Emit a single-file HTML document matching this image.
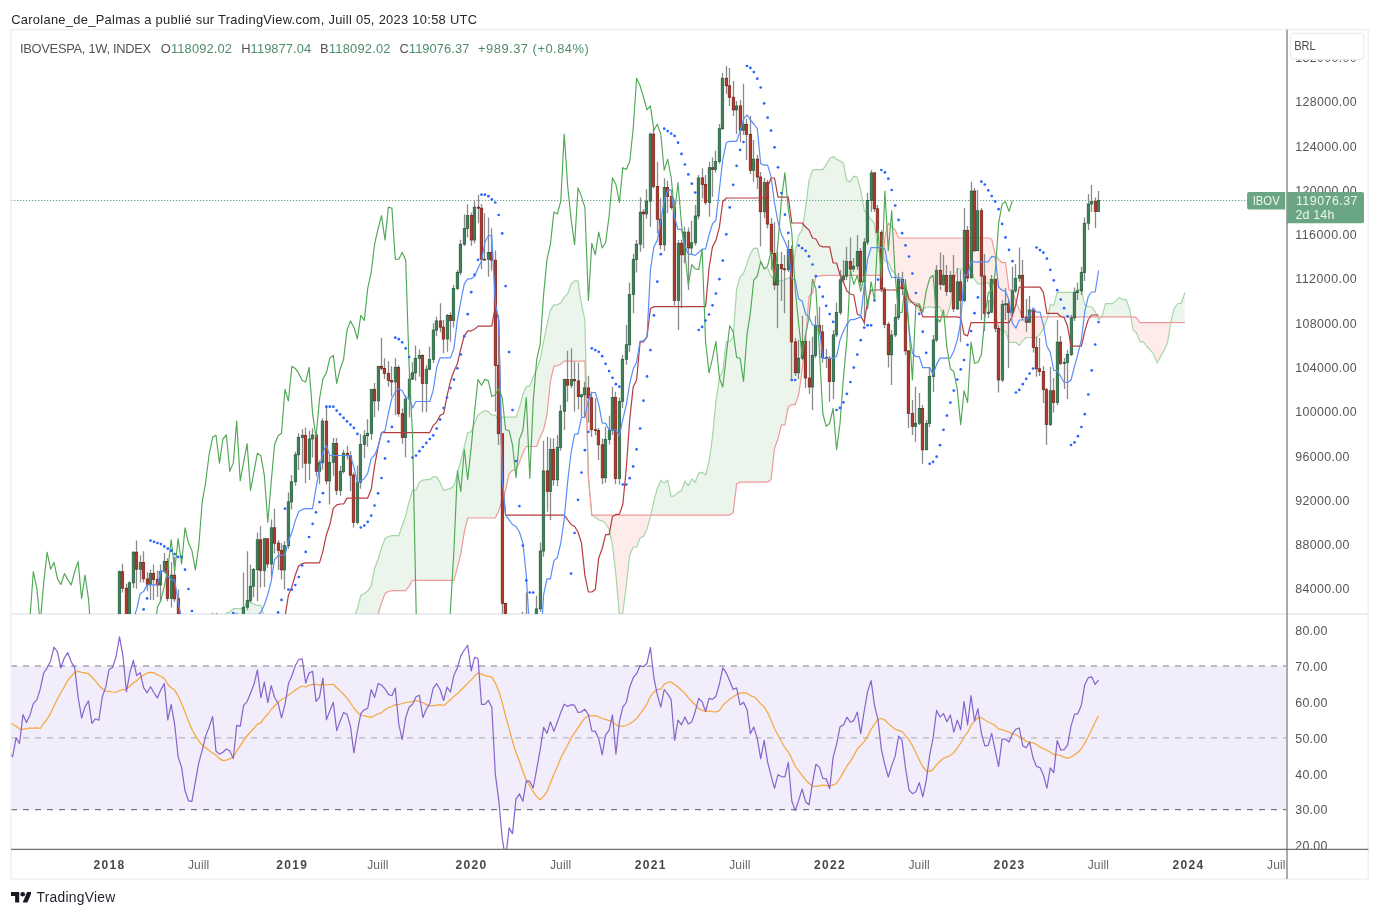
<!DOCTYPE html>
<html lang="fr"><head><meta charset="utf-8"><title>IBOVESPA 1W</title>
<style>
html,body{margin:0;padding:0;background:#fff}
body{width:1379px;height:917px;position:relative;overflow:hidden;font-family:"Liberation Sans",Arial,sans-serif}
svg text{white-space:pre}
</style></head><body>
<svg width="1379" height="917" viewBox="0 0 1379 917" style="position:absolute;left:0;top:0;font-family:'Liberation Sans',Arial,sans-serif">
<defs><clipPath id="cm"><rect x="11.5" y="30.1" width="1274.8" height="583.8"/></clipPath>
<clipPath id="cr"><rect x="11.5" y="614.4" width="1274.8" height="234.5"/></clipPath>
<clipPath id="ca"><rect x="1287.5" y="30.1" width="80.3" height="818.8"/></clipPath>
<clipPath id="ct"><rect x="11.5" y="849.4" width="1274.8" height="29.6"/></clipPath></defs>
<rect x="11" y="29.6" width="1357.3" height="849.4" fill="#fff" stroke="#eff0f5" stroke-width="1.5"/>
<line x1="11" y1="613.9" x2="1368.3" y2="613.9" stroke="#ecedf2" stroke-width="2"/>
<g clip-path="url(#cm)">
<polygon points="5.7,856.5 9.2,857.4 12.6,858.2 16.1,862.5 19.5,850.5 23,844.2 26.4,833.3 29.9,833.3 33.3,833.3 36.8,823.8 40.2,823.8 43.7,817.1 47.1,813.4 50.6,807.7 54,807.2 57.5,806 60.9,806 64.3,809.1 67.8,809.5 71.2,811.9 74.7,811.9 78.1,806.8 81.6,806.8 85,806.8 88.5,806.8 91.9,806.8 95.4,808.5 98.8,810.2 102.3,803.5 105.7,801.1 109.2,801.1 112.6,809.2 116.1,809.2 119.5,805.3 123,803.9 126.4,799 129.9,786.6 133.3,779.8 136.7,773.4 140.2,751.3 143.6,751.2 147.1,748.5 150.5,744 154,738 157.4,732.8 160.9,726.4 164.3,723.5 167.8,723.8 171.2,723.8 174.7,723.8 178.1,723.8 181.6,723.8 185,723.8 188.5,725.8 191.9,722.4 195.4,709 198.8,700 202.2,690.1 205.7,664 209.1,657 212.6,655.7 216,651.1 219.5,631 222.9,621 226.4,613 229.8,612.1 233.3,608.7 236.7,608.7 240.2,608.7 243.6,608.7 247.1,601.7 250.5,601.7 254,604.4 257.4,605.4 260.9,605.4 264.3,616.2 267.8,624.5 271.2,638.8 274.6,646.4 278.1,650.4 281.5,651.3 285,651.3 288.4,651.3 291.9,659.5 294.9,668.1 291.9,672.8 288.4,672.9 285,686.3 281.5,686.3 278.1,692.3 274.6,692.4 271.2,692.4 267.8,692.4 264.3,692.4 260.9,692.4 257.4,692.4 254,692.4 250.5,692.4 247.1,692.4 243.6,692.4 240.2,692.4 236.7,692.4 233.3,692.4 229.8,692.4 226.4,692.4 222.9,692.4 219.5,697.7 216,703.9 212.6,703.9 209.1,703.9 205.7,707.4 202.2,730.8 198.8,740.2 195.4,741.9 191.9,758.7 188.5,772 185,772 181.6,772 178.1,772 174.7,772 171.2,772 167.8,772 164.3,772 160.9,772 157.4,772 154,773.2 150.5,778 147.1,779.3 143.6,781.5 140.2,781.5 136.7,797 133.3,803.3 129.9,807.1 126.4,819.5 123,821.6 119.5,821.6 116.1,821.6 112.6,825.9 109.2,831.6 105.7,845.2 102.3,851.9 98.8,851.9 95.4,851.9 91.9,851.9 88.5,851.9 85,851.9 81.6,851.9 78.1,853 74.7,855.2 71.2,855.2 67.8,855.2 64.3,855.2 60.9,855.2 57.5,855.2 54,855.2 50.6,855.2 47.1,855.2 43.7,855.2 40.2,855.2 36.8,855.2 33.3,864.7 29.9,864.7 26.4,864.7 23,873.5 19.5,874.5 16.1,874.5 12.6,874.5 9.2,874.5 5.7,874.5" fill="rgba(67,160,71,0.10)"/>
<polygon points="294.9,668.1 295.3,669.2 298.8,665.4 302.2,665.4 305.7,665.4 309.1,663.3 312.6,660.7 316,653.8 319.5,654.6 322.9,654.6 326.4,654.6 328.8,647.3 326.4,647.3 322.9,647.3 319.5,647.3 316,647.3 312.6,647.3 309.1,647.3 305.7,650.5 302.2,658.6 298.8,660.8 295.3,667.4" fill="rgba(244,67,54,0.10)"/>
<polygon points="328.8,647.3 329.8,644.4 333.3,638.7 336.7,638.7 340.1,638.7 343.6,629.3 347,626.2 350.5,622.6 353.9,617.3 357.4,608.9 360.8,595.4 364.3,593.6 367.7,591.1 371.2,585.9 374.6,568.2 378.1,559.5 381.5,547.8 385,538.6 388.4,536.5 391.9,535.7 395.3,535.7 398.8,535.7 402.2,525.5 405.7,515.7 409.1,501.6 412.5,490.1 416,490.1 419.4,482 422.9,480.2 426.3,479.7 429.8,479.7 433.2,476.8 436.7,476.8 440.1,482.6 443.6,490.4 447,489.4 450.5,488.5 453.9,485.8 457.4,473.9 460.8,460.5 464.3,446.8 467.7,432.6 471.2,431.8 474.6,422.9 478,415.3 481.5,412.4 484.9,410.7 488.4,411.7 491.8,415.1 495.3,415.1 498.7,420.3 502.2,417.1 505.6,417.1 509.1,417.1 512.5,417.1 516,417.1 519.4,407.9 522.9,394.6 526.3,386.6 529.8,385.8 533.2,377 536.7,369.3 540.1,360 543.6,341.9 547,325 550.4,309.8 553.9,304.8 557.3,304.8 560.8,302.7 564.2,297.1 567.7,293.6 571.1,284.2 574.6,280.9 578,280.9 581.5,304.6 584.9,319.8 588.4,477.5 591.8,515.1 591.8,515.1 591.8,515.1 588.4,477.5 584.9,361.1 581.5,361.1 578,361.1 574.6,361.1 571.1,361.1 567.7,361.1 564.2,361.1 560.8,364.1 557.3,365.8 553.9,365.8 550.4,381.5 547,414.7 543.6,429.8 540.1,437.3 536.7,446.5 533.2,446.5 529.8,446.5 526.3,446.5 522.9,453.1 519.4,462.3 516,469.5 512.5,470.4 509.1,473.9 505.6,490.3 502.2,500.3 498.7,510.8 495.3,518 491.8,518 488.4,518 484.9,518 481.5,518 478,518 474.6,518 471.2,518 467.7,518 464.3,532.2 460.8,553.8 457.4,567.5 453.9,580.3 450.5,580.3 447,580.3 443.6,580.3 440.1,580.3 436.7,580.3 433.2,580.3 429.8,580.3 426.3,580.3 422.9,580.3 419.4,580.3 416,580.3 412.5,580.3 409.1,586.1 405.7,590.7 402.2,590.7 398.8,590.7 395.3,590.7 391.9,590.7 388.4,591.5 385,593.6 381.5,602.8 378.1,614.5 374.6,623.2 371.2,631.3 367.7,631.3 364.3,631.3 360.8,631.3 357.4,636.6 353.9,640.1 350.5,640.1 347,640.1 343.6,643.2 340.1,647.3 336.7,647.3 333.3,647.3 329.8,647.3" fill="rgba(67,160,71,0.10)"/>
<polygon points="591.8,515.1 595.3,517.5 598.7,519.8 602.2,520.8 605.6,523.5 609.1,529.1 612.5,545.2 615.9,574.9 619.4,614.6 622.8,613.3 626.3,585.2 629.7,555 633.2,547 636.6,547 640.1,537.9 643.5,536.4 647,528.9 650.4,517.1 650.8,515.1 650.4,515.1 647,515.1 643.5,515.1 640.1,515.1 636.6,515.1 633.2,515.1 629.7,515.1 626.3,515.1 622.8,515.1 619.4,515.1 615.9,515.1 612.5,515.1 609.1,515.1 605.6,515.1 602.2,515.1 598.7,515.1 595.3,515.1" fill="rgba(244,67,54,0.10)"/>
<polygon points="650.8,515.1 653.9,500.6 657.3,488.5 660.8,480.4 664.2,483.1 667.7,480.2 671.1,496.3 674.6,495.8 678,492.2 681.5,490.9 684.9,481.2 688.3,485.7 691.8,479 695.2,482.3 698.7,473.2 702.1,472.2 705.6,475 709,461.9 712.5,436.6 715.9,401.6 719.4,378 722.8,371.1 726.3,341.5 729.7,341.5 733.2,336.9 736.6,289.4 740.1,276.7 743.5,273.5 747,263.8 750.4,253.6 753.8,248.4 757.3,248.2 760.7,261.9 764.2,268 767.6,268 771.1,276.2 774.5,280.4 778,280.4 781.4,281 784.9,279.6 788.3,277.9 791.8,277.9 795.2,251.7 798.7,235.2 802.1,230.4 805.6,208.1 809,180.4 812.5,170.4 815.9,169.7 819.4,169.7 822.8,169.7 826.2,164.7 829.7,158.6 833.1,156.4 836.6,159 840,161 843.5,163.3 846.9,180.9 850.4,181.6 853.8,176.1 857.3,177.4 860.7,190.5 864.2,209.6 867.6,215.7 871.1,219.4 874.5,223.7 878,251 881.4,251.5 883.1,256.2 881.4,275.3 878,275.3 874.5,275.3 871.1,275.3 867.6,275.3 864.2,275.3 860.7,275.3 857.3,275.3 853.8,275.3 850.4,275.3 846.9,275.3 843.5,275.3 840,275.3 836.6,275.3 833.1,275.3 829.7,275.3 826.2,275.3 822.8,275.3 819.4,276.2 815.9,276.2 812.5,293 809,296.5 805.6,340.4 802.1,370.3 798.7,394.3 795.2,404.6 791.8,404.6 788.3,406.7 784.9,424.9 781.4,424.9 778,438.7 774.5,448.3 771.1,479.5 767.6,482.1 764.2,482.1 760.7,482.1 757.3,482.1 753.8,482.1 750.4,482.1 747,482.1 743.5,482.1 740.1,482.1 736.6,484 733.2,512.4 729.7,515.1 726.3,515.1 722.8,515.1 719.4,515.1 715.9,515.1 712.5,515.1 709,515.1 705.6,515.1 702.1,515.1 698.7,515.1 695.2,515.1 691.8,515.1 688.3,515.1 684.9,515.1 681.5,515.1 678,515.1 674.6,515.1 671.1,515.1 667.7,515.1 664.2,515.1 660.8,515.1 657.3,515.1 653.9,515.1" fill="rgba(67,160,71,0.10)"/>
<polygon points="883.1,256.2 884.9,261 888.3,262 891.8,270.5 895.2,273.5 898.6,281.5 902.1,282 905.5,286.6 909,302.6 912.4,302.6 915.9,302.6 919.3,310.7 922.8,309.6 926.2,307.5 929.7,306.7 933.1,307.6 936.6,306.8 940,307.3 943.5,316.2 946.9,316.5 950.4,304.2 953.8,280.3 957.3,268.8 960.7,268.8 964.1,268.8 967.6,268.8 971,269.5 974.5,279.4 977.9,283.8 981.4,283.8 984.8,283.8 988.3,282.2 991.7,290.4 995.2,314 998.6,327.9 1002.1,331.3 1005.5,331.3 1009,342.3 1012.4,342.3 1015.9,342.3 1019.3,345.6 1022.8,340.6 1026.2,337.5 1029.6,337.5 1033.1,337.5 1036.5,337.5 1040,334.1 1043.4,328.3 1046.9,320.1 1047.6,316.9 1046.9,316.9 1043.4,316.9 1040,316.9 1036.5,316.9 1033.1,316.9 1029.6,316.9 1026.2,316.9 1022.8,316.9 1019.3,309.4 1015.9,301.9 1012.4,289.9 1009,289.9 1005.5,262.7 1002.1,262.7 998.6,259.4 995.2,254.5 991.7,239 988.3,238 984.8,238 981.4,238 977.9,238 974.5,238 971,238 967.6,238 964.1,238 960.7,238 957.3,238 953.8,238 950.4,238 946.9,238 943.5,238 940,238 936.6,238 933.1,238 929.7,238 926.2,238 922.8,238 919.3,238 915.9,238 912.4,238 909,238 905.5,238 902.1,238 898.6,238 895.2,230 891.8,227 888.3,223 884.9,236.9" fill="rgba(244,67,54,0.10)"/>
<polygon points="1047.6,316.9 1050.3,304.7 1053.8,305.4 1057.2,292.3 1060.7,292.3 1064.1,292.3 1067.6,292.3 1071,292.3 1074.5,292.3 1077.9,289.5 1081.4,289.8 1084.8,304.9 1088.3,306.5 1091.7,307 1095.2,311.5 1097.5,316.9 1095.2,316.9 1091.7,316.9 1088.3,316.9 1084.8,316.9 1081.4,316.9 1077.9,316.9 1074.5,316.9 1071,316.9 1067.6,316.9 1064.1,316.9 1060.7,316.9 1057.2,316.9 1053.8,316.9 1050.3,316.9" fill="rgba(67,160,71,0.10)"/>
<polygon points="1097.5,316.9 1098.6,319.5 1101.4,316.9 1098.6,316.9" fill="rgba(244,67,54,0.10)"/>
<polygon points="1101.4,316.9 1102,316.3 1105.5,303.6 1108.9,303.6 1112.4,303.6 1115.8,300.9 1119.3,297.4 1122.7,299.6 1126.2,299.6 1129.6,308.8 1131,316.9 1129.6,316.9 1126.2,316.9 1122.7,316.9 1119.3,316.9 1115.8,316.9 1112.4,316.9 1108.9,316.9 1105.5,316.9 1102,316.9" fill="rgba(67,160,71,0.10)"/>
<polygon points="1131,316.9 1133.1,329.8 1136.5,332.9 1140,341.9 1143.4,341.9 1146.9,346.5 1150.3,350 1153.8,354.5 1157.2,363.1 1160.7,356.2 1164.1,350.2 1167.5,342.9 1170.8,322.7 1167.5,322.7 1164.1,322.7 1160.7,322.7 1157.2,322.7 1153.8,322.7 1150.3,322.7 1146.9,322.7 1143.4,322.7 1140,322.7 1136.5,317.9 1133.1,316.9" fill="rgba(244,67,54,0.10)"/>
<polygon points="1170.8,322.7 1171,321.2 1174.4,308 1177.9,303.5 1181.3,303.5 1184.8,292.8 1184.8,322.7 1181.3,322.7 1177.9,322.7 1174.4,322.7 1171,322.7" fill="rgba(67,160,71,0.10)"/>
<polyline points="5.7,856.5 9.2,857.4 12.6,858.2 16.1,862.5 19.5,850.5 23,844.2 26.4,833.3 29.9,833.3 33.3,833.3 36.8,823.8 40.2,823.8 43.7,817.1 47.1,813.4 50.6,807.7 54,807.2 57.5,806 60.9,806 64.3,809.1 67.8,809.5 71.2,811.9 74.7,811.9 78.1,806.8 81.6,806.8 85,806.8 88.5,806.8 91.9,806.8 95.4,808.5 98.8,810.2 102.3,803.5 105.7,801.1 109.2,801.1 112.6,809.2 116.1,809.2 119.5,805.3 123,803.9 126.4,799 129.9,786.6 133.3,779.8 136.7,773.4 140.2,751.3 143.6,751.2 147.1,748.5 150.5,744 154,738 157.4,732.8 160.9,726.4 164.3,723.5 167.8,723.8 171.2,723.8 174.7,723.8 178.1,723.8 181.6,723.8 185,723.8 188.5,725.8 191.9,722.4 195.4,709 198.8,700 202.2,690.1 205.7,664 209.1,657 212.6,655.7 216,651.1 219.5,631 222.9,621 226.4,613 229.8,612.1 233.3,608.7 236.7,608.7 240.2,608.7 243.6,608.7 247.1,601.7 250.5,601.7 254,604.4 257.4,605.4 260.9,605.4 264.3,616.2 267.8,624.5 271.2,638.8 274.6,646.4 278.1,650.4 281.5,651.3 285,651.3 288.4,651.3 291.9,659.5 295.3,669.2 298.8,665.4 302.2,665.4 305.7,665.4 309.1,663.3 312.6,660.7 316,653.8 319.5,654.6 322.9,654.6 326.4,654.6 329.8,644.4 333.3,638.7 336.7,638.7 340.1,638.7 343.6,629.3 347,626.2 350.5,622.6 353.9,617.3 357.4,608.9 360.8,595.4 364.3,593.6 367.7,591.1 371.2,585.9 374.6,568.2 378.1,559.5 381.5,547.8 385,538.6 388.4,536.5 391.9,535.7 395.3,535.7 398.8,535.7 402.2,525.5 405.7,515.7 409.1,501.6 412.5,490.1 416,490.1 419.4,482 422.9,480.2 426.3,479.7 429.8,479.7 433.2,476.8 436.7,476.8 440.1,482.6 443.6,490.4 447,489.4 450.5,488.5 453.9,485.8 457.4,473.9 460.8,460.5 464.3,446.8 467.7,432.6 471.2,431.8 474.6,422.9 478,415.3 481.5,412.4 484.9,410.7 488.4,411.7 491.8,415.1 495.3,415.1 498.7,420.3 502.2,417.1 505.6,417.1 509.1,417.1 512.5,417.1 516,417.1 519.4,407.9 522.9,394.6 526.3,386.6 529.8,385.8 533.2,377 536.7,369.3 540.1,360 543.6,341.9 547,325 550.4,309.8 553.9,304.8 557.3,304.8 560.8,302.7 564.2,297.1 567.7,293.6 571.1,284.2 574.6,280.9 578,280.9 581.5,304.6 584.9,319.8 588.4,477.5 591.8,515.1 595.3,517.5 598.7,519.8 602.2,520.8 605.6,523.5 609.1,529.1 612.5,545.2 615.9,574.9 619.4,614.6 622.8,613.3 626.3,585.2 629.7,555 633.2,547 636.6,547 640.1,537.9 643.5,536.4 647,528.9 650.4,517.1 653.9,500.6 657.3,488.5 660.8,480.4 664.2,483.1 667.7,480.2 671.1,496.3 674.6,495.8 678,492.2 681.5,490.9 684.9,481.2 688.3,485.7 691.8,479 695.2,482.3 698.7,473.2 702.1,472.2 705.6,475 709,461.9 712.5,436.6 715.9,401.6 719.4,378 722.8,371.1 726.3,341.5 729.7,341.5 733.2,336.9 736.6,289.4 740.1,276.7 743.5,273.5 747,263.8 750.4,253.6 753.8,248.4 757.3,248.2 760.7,261.9 764.2,268 767.6,268 771.1,276.2 774.5,280.4 778,280.4 781.4,281 784.9,279.6 788.3,277.9 791.8,277.9 795.2,251.7 798.7,235.2 802.1,230.4 805.6,208.1 809,180.4 812.5,170.4 815.9,169.7 819.4,169.7 822.8,169.7 826.2,164.7 829.7,158.6 833.1,156.4 836.6,159 840,161 843.5,163.3 846.9,180.9 850.4,181.6 853.8,176.1 857.3,177.4 860.7,190.5 864.2,209.6 867.6,215.7 871.1,219.4 874.5,223.7 878,251 881.4,251.5 884.9,261 888.3,262 891.8,270.5 895.2,273.5 898.6,281.5 902.1,282 905.5,286.6 909,302.6 912.4,302.6 915.9,302.6 919.3,310.7 922.8,309.6 926.2,307.5 929.7,306.7 933.1,307.6 936.6,306.8 940,307.3 943.5,316.2 946.9,316.5 950.4,304.2 953.8,280.3 957.3,268.8 960.7,268.8 964.1,268.8 967.6,268.8 971,269.5 974.5,279.4 977.9,283.8 981.4,283.8 984.8,283.8 988.3,282.2 991.7,290.4 995.2,314 998.6,327.9 1002.1,331.3 1005.5,331.3 1009,342.3 1012.4,342.3 1015.9,342.3 1019.3,345.6 1022.8,340.6 1026.2,337.5 1029.6,337.5 1033.1,337.5 1036.5,337.5 1040,334.1 1043.4,328.3 1046.9,320.1 1050.3,304.7 1053.8,305.4 1057.2,292.3 1060.7,292.3 1064.1,292.3 1067.6,292.3 1071,292.3 1074.5,292.3 1077.9,289.5 1081.4,289.8 1084.8,304.9 1088.3,306.5 1091.7,307 1095.2,311.5 1098.6,319.5 1102,316.3 1105.5,303.6 1108.9,303.6 1112.4,303.6 1115.8,300.9 1119.3,297.4 1122.7,299.6 1126.2,299.6 1129.6,308.8 1133.1,329.8 1136.5,332.9 1140,341.9 1143.4,341.9 1146.9,346.5 1150.3,350 1153.8,354.5 1157.2,363.1 1160.7,356.2 1164.1,350.2 1167.5,342.9 1171,321.2 1174.4,308 1177.9,303.5 1181.3,303.5 1184.8,292.8" fill="none" stroke="#a5d6a7" stroke-width="1.2" stroke-linejoin="round"/>
<polyline points="5.7,874.5 9.2,874.5 12.6,874.5 16.1,874.5 19.5,874.5 23,873.5 26.4,864.7 29.9,864.7 33.3,864.7 36.8,855.2 40.2,855.2 43.7,855.2 47.1,855.2 50.6,855.2 54,855.2 57.5,855.2 60.9,855.2 64.3,855.2 67.8,855.2 71.2,855.2 74.7,855.2 78.1,853 81.6,851.9 85,851.9 88.5,851.9 91.9,851.9 95.4,851.9 98.8,851.9 102.3,851.9 105.7,845.2 109.2,831.6 112.6,825.9 116.1,821.6 119.5,821.6 123,821.6 126.4,819.5 129.9,807.1 133.3,803.3 136.7,797 140.2,781.5 143.6,781.5 147.1,779.3 150.5,778 154,773.2 157.4,772 160.9,772 164.3,772 167.8,772 171.2,772 174.7,772 178.1,772 181.6,772 185,772 188.5,772 191.9,758.7 195.4,741.9 198.8,740.2 202.2,730.8 205.7,707.4 209.1,703.9 212.6,703.9 216,703.9 219.5,697.7 222.9,692.4 226.4,692.4 229.8,692.4 233.3,692.4 236.7,692.4 240.2,692.4 243.6,692.4 247.1,692.4 250.5,692.4 254,692.4 257.4,692.4 260.9,692.4 264.3,692.4 267.8,692.4 271.2,692.4 274.6,692.4 278.1,692.3 281.5,686.3 285,686.3 288.4,672.9 291.9,672.8 295.3,667.4 298.8,660.8 302.2,658.6 305.7,650.5 309.1,647.3 312.6,647.3 316,647.3 319.5,647.3 322.9,647.3 326.4,647.3 329.8,647.3 333.3,647.3 336.7,647.3 340.1,647.3 343.6,643.2 347,640.1 350.5,640.1 353.9,640.1 357.4,636.6 360.8,631.3 364.3,631.3 367.7,631.3 371.2,631.3 374.6,623.2 378.1,614.5 381.5,602.8 385,593.6 388.4,591.5 391.9,590.7 395.3,590.7 398.8,590.7 402.2,590.7 405.7,590.7 409.1,586.1 412.5,580.3 416,580.3 419.4,580.3 422.9,580.3 426.3,580.3 429.8,580.3 433.2,580.3 436.7,580.3 440.1,580.3 443.6,580.3 447,580.3 450.5,580.3 453.9,580.3 457.4,567.5 460.8,553.8 464.3,532.2 467.7,518 471.2,518 474.6,518 478,518 481.5,518 484.9,518 488.4,518 491.8,518 495.3,518 498.7,510.8 502.2,500.3 505.6,490.3 509.1,473.9 512.5,470.4 516,469.5 519.4,462.3 522.9,453.1 526.3,446.5 529.8,446.5 533.2,446.5 536.7,446.5 540.1,437.3 543.6,429.8 547,414.7 550.4,381.5 553.9,365.8 557.3,365.8 560.8,364.1 564.2,361.1 567.7,361.1 571.1,361.1 574.6,361.1 578,361.1 581.5,361.1 584.9,361.1 588.4,477.5 591.8,515.1 595.3,515.1 598.7,515.1 602.2,515.1 605.6,515.1 609.1,515.1 612.5,515.1 615.9,515.1 619.4,515.1 622.8,515.1 626.3,515.1 629.7,515.1 633.2,515.1 636.6,515.1 640.1,515.1 643.5,515.1 647,515.1 650.4,515.1 653.9,515.1 657.3,515.1 660.8,515.1 664.2,515.1 667.7,515.1 671.1,515.1 674.6,515.1 678,515.1 681.5,515.1 684.9,515.1 688.3,515.1 691.8,515.1 695.2,515.1 698.7,515.1 702.1,515.1 705.6,515.1 709,515.1 712.5,515.1 715.9,515.1 719.4,515.1 722.8,515.1 726.3,515.1 729.7,515.1 733.2,512.4 736.6,484 740.1,482.1 743.5,482.1 747,482.1 750.4,482.1 753.8,482.1 757.3,482.1 760.7,482.1 764.2,482.1 767.6,482.1 771.1,479.5 774.5,448.3 778,438.7 781.4,424.9 784.9,424.9 788.3,406.7 791.8,404.6 795.2,404.6 798.7,394.3 802.1,370.3 805.6,340.4 809,296.5 812.5,293 815.9,276.2 819.4,276.2 822.8,275.3 826.2,275.3 829.7,275.3 833.1,275.3 836.6,275.3 840,275.3 843.5,275.3 846.9,275.3 850.4,275.3 853.8,275.3 857.3,275.3 860.7,275.3 864.2,275.3 867.6,275.3 871.1,275.3 874.5,275.3 878,275.3 881.4,275.3 884.9,236.9 888.3,223 891.8,227 895.2,230 898.6,238 902.1,238 905.5,238 909,238 912.4,238 915.9,238 919.3,238 922.8,238 926.2,238 929.7,238 933.1,238 936.6,238 940,238 943.5,238 946.9,238 950.4,238 953.8,238 957.3,238 960.7,238 964.1,238 967.6,238 971,238 974.5,238 977.9,238 981.4,238 984.8,238 988.3,238 991.7,239 995.2,254.5 998.6,259.4 1002.1,262.7 1005.5,262.7 1009,289.9 1012.4,289.9 1015.9,301.9 1019.3,309.4 1022.8,316.9 1026.2,316.9 1029.6,316.9 1033.1,316.9 1036.5,316.9 1040,316.9 1043.4,316.9 1046.9,316.9 1050.3,316.9 1053.8,316.9 1057.2,316.9 1060.7,316.9 1064.1,316.9 1067.6,316.9 1071,316.9 1074.5,316.9 1077.9,316.9 1081.4,316.9 1084.8,316.9 1088.3,316.9 1091.7,316.9 1095.2,316.9 1098.6,316.9 1102,316.9 1105.5,316.9 1108.9,316.9 1112.4,316.9 1115.8,316.9 1119.3,316.9 1122.7,316.9 1126.2,316.9 1129.6,316.9 1133.1,316.9 1136.5,317.9 1140,322.7 1143.4,322.7 1146.9,322.7 1150.3,322.7 1153.8,322.7 1157.2,322.7 1160.7,322.7 1164.1,322.7 1167.5,322.7 1171,322.7 1174.4,322.7 1177.9,322.7 1181.3,322.7 1184.8,322.7" fill="none" stroke="#ef9a9a" stroke-width="1.2" stroke-linejoin="round"/>
<line x1="11" y1="200.5" x2="1287" y2="200.5" stroke="#6aa584" stroke-width="1.1" stroke-dasharray="1.3 1.7"/>
<path d="M5.5 823.1V830.5M9.5 829V837.3M12.5 835.3V844.1M16.5 819.3V844M19.5 821.9V830.3M22.5 791.4V832M26.5 790.4V805.3M29.5 791.2V805M33.5 774.8V794.3M36.5 769.3V781.1M40.5 753.9V776.5M43.5 729.1V760.5M47.5 721.5V734.6M50.5 708.8V723.1M54.5 677.9V711.4M57.5 678.3V684.3M60.5 683.5V697.2M64.5 675.4V698.4M67.5 665.7V680.7M71.5 663.4V673.8M74.5 671.6V679.1M78.5 675.1V701.7M81.5 696.1V724.4M85.5 703.1V722.2M88.5 696.9V706.3M91.5 695.4V720.5M95.5 709.8V719.4M98.5 713.2V718.6M102.5 682.9V716.5M105.5 669.9V686.9M109.5 639.7V678.2M112.5 636.2V646.4M116.5 617.4V642.6M119.5 570.6V625M122.5 563.8V592.5M126.5 583.8V625.4M129.5 581.2V629.2M133.5 551.2V588M136.5 540.6V588.7M140.5 555.6V582.5M143.5 551.2V582.5M147.5 571.9V591.2M150.5 569.4V600M153.5 564.4V600M157.5 570.6V596.9M160.5 564.4V601.3M164.5 553.1V573M167.5 558.1V601.3M171.5 561.9V607.5M174.5 556.9V602M178.5 589.4V650.5M181.5 641.8V685M185.5 655.1V730.8M188.5 704.9V745.8M191.5 717.1V753.9M195.5 710.4V745.7M198.5 681.6V724.8M202.5 667.2V696M205.5 646.2V678.3M209.5 628.5V660.6M212.5 613V648.4M216.5 613V675M219.5 646.2V685M222.5 662.8V690.5M226.5 647.3V681.6M229.5 666.1V697.1M233.5 667.2V698.2M236.5 636.3V683.9M240.5 630.7V662.8M243.5 572.5V642.9M247.5 551.2V610.2M250.5 564.4V603.1M253.5 568.1V597.5M257.5 532.5V601.3M260.5 526.2V587.5M264.5 538.3V586.9M267.5 538.7V568.1M271.5 519.4V577.5M274.5 508.7V553.8M278.5 540V570M281.5 543.1V579.4M284.5 541.2V589.6M288.5 492.5V548.8M291.5 475V509.4M295.5 451.7V485.8M298.5 433.3V470M302.5 429.2V468.3M305.5 427.5V483.3M309.5 430.8V480M312.5 428.3V457.5M316.5 433.3V476.4M319.5 460.2V484.2M322.5 418.3V469.7M326.5 406.7V484.2M329.5 455V504.4M333.5 437.9V475.8M336.5 437.9V495M340.5 465.8V495.8M343.5 449.7V473.6M347.5 445.7V459.4M350.5 450.9V490.9M353.5 472.5V527.5M357.5 465.4V524.2M360.5 433.9V488.8M364.5 430V458.3M367.5 419.2V446.7M371.5 389.3V439.7M374.5 382.9V417.2M378.5 366.2V410.4M381.5 337.7V370.3M384.5 358.3V378.9M388.5 361.3V386.8M391.5 366.2V396.6M395.5 358.3V415.3M398.5 365.2V416.7M402.5 408.5V443.8M405.5 395V457.5M409.5 373V417.5M412.5 362.2V380.1M415.5 345.5V380.8M419.5 349.5V376.7M422.5 354.2V412.3M426.5 365.3V412.3M429.5 346.5V369.9M433.5 323.3V362.9M436.5 316.7V336.1M440.5 303.3V332.2M443.5 320V353.3M447.5 314V351.7M450.5 312.5V341.7M453.5 285V327.5M457.5 270V289.9M460.5 239.8V275.2M464.5 214.2V245.9M467.5 204.2V237.5M471.5 212.6V245.8M474.5 200.8V243.2M478.5 194.7V223.3M481.5 204V269.2M484.5 213.3V260.8M488.5 217.5V276.7M491.5 228.3V270.8M495.5 250.6V411.7M498.5 315V445M502.5 433.7V760.3M505.5 603.1V835.6M509.5 658.4V830.4M512.5 682.7V768M515.5 634V748.7M519.5 623V675M522.5 611.7V721M526.5 592.5V684.6M529.5 618.6V656.2M533.5 629.6V680.5M536.5 595.8V660M540.5 542.5V611.9M543.5 440.8V556.7M547.5 436.7V511.7M550.5 438.3V520M553.5 438.3V485.8M557.5 435V486.3M560.5 405V450.8M564.5 378.4V430M567.5 350.8V401.7M571.5 348.3V388.3M574.5 361.7V411.7M578.5 362.5V409.2M581.5 394.4V416.7M584.5 381.7V418.3M588.5 375.8V422.5M591.5 391.7V436.7M595.5 398.3V435.3M598.5 427.9V460M602.5 438.4V484.2M605.5 426.7V482.8M609.5 415.8V444.4M612.5 386.7V435.1M615.5 391.7V484.2M619.5 397.5V484.5M622.5 354.7V407.9M626.5 325V364.8M629.5 282.5V352.2M633.5 253.7V313.3M636.5 240V272.5M640.5 197.5V251.7M643.5 209.2V248.3M646.5 189.2V218.6M650.5 132.5V226.7M653.5 128.7V188.5M657.5 161.7V233.3M660.5 198.3V249.3M664.5 178.3V251M667.5 180.8V213.3M671.5 195.6V209.8M674.5 199.4V305.5M678.5 240V330M681.5 239.8V308.3M684.5 226.7V263.3M688.5 227.5V290M691.5 220.8V254.2M695.5 205V245.5M698.5 175V219.6M702.5 168.3V198.3M705.5 175V205M709.5 161.8V216.7M712.5 157.5V196.7M715.5 150.8V172.5M719.5 124.1V163.7M722.5 73V130M726.5 66V94M729.5 68V106M733.5 81V116M736.5 101V134M740.5 100V142M743.5 83.7V135M746.5 119V160M750.5 116V174M753.5 140V182M757.5 155V189M760.5 172V246.5M764.5 178V218M767.5 180V228.5M771.5 218V270M774.5 222V290M777.5 251.7V328.3M781.5 251.7V301M784.5 255V313.3M788.5 240V272M791.5 245.5V380M795.5 338V376M798.5 340V379M802.5 315.8V360M805.5 335V388M809.5 340.8V394M812.5 336.7V410M815.5 315.8V358M819.5 306.7V335M822.5 325V362.5M826.5 349V368M829.5 356V401.7M833.5 330V399M836.5 302.5V337M840.5 270V315M843.5 260V283M846.5 246.7V280M850.5 237.5V275M853.5 258V272M857.5 235V270M860.5 248V286M864.5 238V325.3M867.5 193V245M871.5 170V212M874.5 172V212M877.5 205V236M881.5 230V292M884.5 287V328M888.5 322V367.5M891.5 330V385M895.5 304V337M898.5 273V320M902.5 271.7V295M905.5 285V355M908.5 350V428M912.5 400V435M915.5 386.7V441.7M919.5 393V425M922.5 405V463.8M926.5 420V450M929.5 367V427M933.5 335V392M936.5 265V342M940.5 252.5V290M943.5 255V286M946.5 265V296M950.5 271V293M953.5 255V312M957.5 268V310M960.5 270V342M964.5 208V302M967.5 226V282M971.5 181.7V278M974.5 188V252M977.5 190V250.7M981.5 208V320M984.5 254V331M988.5 300V318M991.5 275V313M995.5 278V332M998.5 325V392.5M1002.5 300V382M1005.5 288V320M1008.5 300V368M1012.5 266.7V314M1015.5 264V293M1019.5 247.5V282M1022.5 260V320M1026.5 299V331.7M1029.5 296V323M1033.5 308V352.5M1036.5 336.7V376.7M1039.5 338V376M1043.5 366V403M1046.5 388V445M1050.5 366.7V426M1053.5 378V412.5M1057.5 320V405M1060.5 336V365M1064.5 358V389M1067.5 350V399M1071.5 315V356M1074.5 287.5V321M1077.5 282.5V300M1081.5 266.7V295M1084.5 217.5V281M1088.5 194V230M1091.5 185V212M1095.5 197.5V228M1098.5 191V211.4" stroke="#8a8a8a" stroke-width="1.3" fill="none"/>
<g fill="#3f8059" stroke="#215f3b" stroke-width="0.7"><rect x="15.2" y="822.2" width="2.5" height="20.1"/><rect x="21.2" y="794.1" width="2.5" height="34.5"/><rect x="28.2" y="793.5" width="2.5" height="9"/><rect x="32.2" y="777.9" width="2.5" height="15.5"/><rect x="35.2" y="772.8" width="2.5" height="5.1"/><rect x="39.2" y="757.8" width="2.5" height="15"/><rect x="42.2" y="731.7" width="2.5" height="26.1"/><rect x="46.2" y="722.3" width="2.5" height="9.4"/><rect x="49.2" y="709.5" width="2.5" height="12.8"/><rect x="53.2" y="679.9" width="2.5" height="29.6"/><rect x="63.2" y="676.6" width="2.5" height="19.5"/><rect x="66.2" y="666.3" width="2.5" height="10.3"/><rect x="84.2" y="705.6" width="2.5" height="14.1"/><rect x="87.2" y="697.6" width="2.5" height="8"/><rect x="94.2" y="713.4" width="2.5" height="5.2"/><rect x="101.2" y="686.2" width="2.5" height="28.5"/><rect x="104.2" y="672.8" width="2.5" height="13.4"/><rect x="108.2" y="643.2" width="2.5" height="29.5"/><rect x="111.2" y="640.1" width="2.5" height="3.1"/><rect x="115.2" y="619.4" width="2.5" height="20.7"/><rect x="118.2" y="571.7" width="2.5" height="47.7"/><rect x="128.2" y="582.9" width="2.5" height="40.1"/><rect x="132.2" y="552.2" width="2.5" height="30.6"/><rect x="139.2" y="562.4" width="2.5" height="6.8"/><rect x="149.2" y="573.6" width="2.5" height="10.9"/><rect x="159.2" y="571.5" width="2.5" height="13.5"/><rect x="163.2" y="561.6" width="2.5" height="9.9"/><rect x="170.2" y="575.2" width="2.5" height="23.3"/><rect x="194.2" y="713" width="2.5" height="23.5"/><rect x="197.2" y="688.2" width="2.5" height="24.9"/><rect x="201.2" y="670.6" width="2.5" height="17.5"/><rect x="204.2" y="648.8" width="2.5" height="21.9"/><rect x="208.2" y="634.4" width="2.5" height="14.3"/><rect x="211.2" y="617.1" width="2.5" height="17.4"/><rect x="221.2" y="674.3" width="2.5" height="2.6"/><rect x="225.2" y="669.7" width="2.5" height="4.6"/><rect x="235.2" y="639.1" width="2.5" height="44.4"/><rect x="242.2" y="607.3" width="2.5" height="33"/><rect x="246.2" y="600.6" width="2.5" height="6.6"/><rect x="249.2" y="586.2" width="2.5" height="14.4"/><rect x="252.2" y="569.6" width="2.5" height="16.6"/><rect x="256.2" y="539.8" width="2.5" height="29.9"/><rect x="263.2" y="538.7" width="2.5" height="31.8"/><rect x="270.2" y="527.8" width="2.5" height="36.2"/><rect x="283.2" y="545.7" width="2.5" height="24.2"/><rect x="287.2" y="501.9" width="2.5" height="43.8"/><rect x="290.2" y="481.8" width="2.5" height="20.1"/><rect x="294.2" y="454.8" width="2.5" height="27"/><rect x="297.2" y="437.3" width="2.5" height="17.5"/><rect x="301.2" y="435.3" width="2.5" height="2"/><rect x="308.2" y="439" width="2.5" height="24.2"/><rect x="311.2" y="435" width="2.5" height="4"/><rect x="318.2" y="462.9" width="2.5" height="8.4"/><rect x="321.2" y="421.1" width="2.5" height="41.7"/><rect x="328.2" y="462.3" width="2.5" height="18.6"/><rect x="332.2" y="443.6" width="2.5" height="18.7"/><rect x="339.2" y="471.6" width="2.5" height="18.8"/><rect x="342.2" y="453.2" width="2.5" height="18.3"/><rect x="356.2" y="482.1" width="2.5" height="40.2"/><rect x="359.2" y="444.5" width="2.5" height="37.7"/><rect x="363.2" y="435.7" width="2.5" height="8.8"/><rect x="366.2" y="433.3" width="2.5" height="2.4"/><rect x="370.2" y="389.3" width="2.5" height="44"/><rect x="377.2" y="366.3" width="2.5" height="34.6"/><rect x="394.2" y="367.4" width="2.5" height="14.6"/><rect x="404.2" y="399" width="2.5" height="38.4"/><rect x="408.2" y="379.1" width="2.5" height="19.9"/><rect x="411.2" y="372.8" width="2.5" height="6.3"/><rect x="414.2" y="358.3" width="2.5" height="14.6"/><rect x="418.2" y="355.4" width="2.5" height="2.9"/><rect x="425.2" y="369.2" width="2.5" height="14.2"/><rect x="428.2" y="359.3" width="2.5" height="9.9"/><rect x="432.2" y="330.1" width="2.5" height="29.2"/><rect x="435.2" y="320.9" width="2.5" height="9.2"/><rect x="446.2" y="315.4" width="2.5" height="23.6"/><rect x="452.2" y="288.5" width="2.5" height="32"/><rect x="456.2" y="272.5" width="2.5" height="15.9"/><rect x="459.2" y="244.2" width="2.5" height="28.3"/><rect x="463.2" y="228.6" width="2.5" height="15.6"/><rect x="466.2" y="215.6" width="2.5" height="13"/><rect x="473.2" y="207.1" width="2.5" height="32.9"/><rect x="483.2" y="259.2" width="2.5" height="0.9"/><rect x="487.2" y="252.4" width="2.5" height="6.8"/><rect x="508.2" y="705.7" width="2.5" height="70.4"/><rect x="514.2" y="658.6" width="2.5" height="90.1"/><rect x="518.2" y="644.1" width="2.5" height="14.5"/><rect x="525.2" y="627.3" width="2.5" height="57.3"/><rect x="535.2" y="608.9" width="2.5" height="51.1"/><rect x="539.2" y="551" width="2.5" height="57.9"/><rect x="542.2" y="470.9" width="2.5" height="80.1"/><rect x="549.2" y="449.5" width="2.5" height="41.8"/><rect x="556.2" y="447.4" width="2.5" height="32.4"/><rect x="559.2" y="411.2" width="2.5" height="36.2"/><rect x="563.2" y="379.6" width="2.5" height="31.6"/><rect x="570.2" y="379.4" width="2.5" height="5.9"/><rect x="580.2" y="394.8" width="2.5" height="1.9"/><rect x="583.2" y="387.9" width="2.5" height="6.9"/><rect x="604.2" y="439.4" width="2.5" height="38.4"/><rect x="608.2" y="430.3" width="2.5" height="9.1"/><rect x="611.2" y="397.6" width="2.5" height="32.7"/><rect x="618.2" y="401.4" width="2.5" height="77.2"/><rect x="621.2" y="359.3" width="2.5" height="42"/><rect x="625.2" y="344.7" width="2.5" height="14.6"/><rect x="628.2" y="294.6" width="2.5" height="50.2"/><rect x="632.2" y="259.4" width="2.5" height="35.1"/><rect x="635.2" y="244.2" width="2.5" height="15.3"/><rect x="639.2" y="212.1" width="2.5" height="32.1"/><rect x="645.2" y="201.1" width="2.5" height="12.8"/><rect x="649.2" y="134.1" width="2.5" height="67.1"/><rect x="663.2" y="187.6" width="2.5" height="57.2"/><rect x="677.2" y="243.3" width="2.5" height="57.2"/><rect x="683.2" y="232.1" width="2.5" height="22.8"/><rect x="690.2" y="242.8" width="2.5" height="5.2"/><rect x="694.2" y="216" width="2.5" height="26.8"/><rect x="697.2" y="177.9" width="2.5" height="38.1"/><rect x="708.2" y="167.7" width="2.5" height="34.8"/><rect x="714.2" y="161.6" width="2.5" height="7.9"/><rect x="718.2" y="128.7" width="2.5" height="32.9"/><rect x="721.2" y="78.2" width="2.5" height="50.5"/><rect x="735.2" y="105.9" width="2.5" height="4.1"/><rect x="742.2" y="124.3" width="2.5" height="5.9"/><rect x="752.2" y="159.1" width="2.5" height="11.2"/><rect x="763.2" y="182.7" width="2.5" height="29.1"/><rect x="776.2" y="264.6" width="2.5" height="20.4"/><rect x="787.2" y="249.5" width="2.5" height="20.1"/><rect x="797.2" y="358.2" width="2.5" height="14.6"/><rect x="801.2" y="341.5" width="2.5" height="16.7"/><rect x="811.2" y="355.5" width="2.5" height="31.5"/><rect x="814.2" y="325.7" width="2.5" height="29.7"/><rect x="832.2" y="334.9" width="2.5" height="46.6"/><rect x="835.2" y="312.6" width="2.5" height="22.3"/><rect x="839.2" y="279.8" width="2.5" height="32.8"/><rect x="842.2" y="276.1" width="2.5" height="3.7"/><rect x="845.2" y="261.4" width="2.5" height="14.7"/><rect x="852.2" y="266.1" width="2.5" height="2.9"/><rect x="856.2" y="251.4" width="2.5" height="14.7"/><rect x="863.2" y="242.1" width="2.5" height="39.8"/><rect x="866.2" y="200.4" width="2.5" height="41.7"/><rect x="870.2" y="172.9" width="2.5" height="27.5"/><rect x="890.2" y="335" width="2.5" height="19.8"/><rect x="894.2" y="317.6" width="2.5" height="17.3"/><rect x="897.2" y="279.4" width="2.5" height="38.2"/><rect x="914.2" y="423.2" width="2.5" height="3.1"/><rect x="918.2" y="408.4" width="2.5" height="14.8"/><rect x="925.2" y="423.5" width="2.5" height="26.3"/><rect x="928.2" y="376.6" width="2.5" height="46.9"/><rect x="932.2" y="340" width="2.5" height="36.6"/><rect x="935.2" y="270.3" width="2.5" height="69.6"/><rect x="942.2" y="275.5" width="2.5" height="8.9"/><rect x="949.2" y="275.5" width="2.5" height="15.9"/><rect x="956.2" y="281.9" width="2.5" height="27"/><rect x="963.2" y="230.4" width="2.5" height="70.1"/><rect x="970.2" y="191" width="2.5" height="87"/><rect x="976.2" y="210.7" width="2.5" height="40"/><rect x="987.2" y="312.2" width="2.5" height="1.2"/><rect x="990.2" y="279.6" width="2.5" height="32.6"/><rect x="1001.2" y="304.3" width="2.5" height="75.7"/><rect x="1004.2" y="303.8" width="2.5" height="0.9"/><rect x="1011.2" y="290.8" width="2.5" height="21.6"/><rect x="1014.2" y="278.3" width="2.5" height="12.5"/><rect x="1018.2" y="275.3" width="2.5" height="3"/><rect x="1028.2" y="310" width="2.5" height="12.2"/><rect x="1049.2" y="390.8" width="2.5" height="33.8"/><rect x="1056.2" y="342.1" width="2.5" height="60.4"/><rect x="1063.2" y="362.5" width="2.5" height="0.9"/><rect x="1066.2" y="354.6" width="2.5" height="7.9"/><rect x="1070.2" y="317.9" width="2.5" height="36.7"/><rect x="1073.2" y="292.7" width="2.5" height="25.2"/><rect x="1076.2" y="290.9" width="2.5" height="1.8"/><rect x="1080.2" y="272.6" width="2.5" height="18.3"/><rect x="1083.2" y="223.2" width="2.5" height="49.4"/><rect x="1087.2" y="204" width="2.5" height="19.2"/><rect x="1090.2" y="201.6" width="2.5" height="2.4"/><rect x="1097.2" y="200.5" width="2.5" height="10.9"/></g>
<g fill="#ab3b2a" stroke="#7c1d14" stroke-width="0.7"><rect x="4.2" y="826.5" width="2.5" height="3.3"/><rect x="8.2" y="829.8" width="2.5" height="6.5"/><rect x="11.2" y="836.3" width="2.5" height="6"/><rect x="18.2" y="822.2" width="2.5" height="6.4"/><rect x="25.2" y="794.1" width="2.5" height="8.3"/><rect x="56.2" y="679.9" width="2.5" height="4.1"/><rect x="59.2" y="684" width="2.5" height="12.1"/><rect x="70.2" y="666.3" width="2.5" height="6.6"/><rect x="73.2" y="672.9" width="2.5" height="4.6"/><rect x="77.2" y="677.5" width="2.5" height="22.8"/><rect x="80.2" y="700.3" width="2.5" height="19.4"/><rect x="90.2" y="697.6" width="2.5" height="21"/><rect x="97.2" y="713.4" width="2.5" height="1.4"/><rect x="121.2" y="571.7" width="2.5" height="16.5"/><rect x="125.2" y="588.2" width="2.5" height="34.8"/><rect x="135.2" y="552.2" width="2.5" height="17"/><rect x="142.2" y="562.4" width="2.5" height="16.4"/><rect x="146.2" y="578.9" width="2.5" height="5.6"/><rect x="152.2" y="573.6" width="2.5" height="6"/><rect x="156.2" y="579.6" width="2.5" height="5.4"/><rect x="166.2" y="561.6" width="2.5" height="36.8"/><rect x="173.2" y="575.2" width="2.5" height="23.7"/><rect x="177.2" y="598.8" width="2.5" height="46.3"/><rect x="180.2" y="645.1" width="2.5" height="18.3"/><rect x="184.2" y="663.5" width="2.5" height="47.6"/><rect x="187.2" y="711.1" width="2.5" height="24.2"/><rect x="190.2" y="735.2" width="2.5" height="1.3"/><rect x="215.2" y="617.1" width="2.5" height="54.5"/><rect x="218.2" y="671.5" width="2.5" height="5.4"/><rect x="228.2" y="669.7" width="2.5" height="2.9"/><rect x="232.2" y="672.6" width="2.5" height="10.9"/><rect x="239.2" y="639.1" width="2.5" height="1.1"/><rect x="259.2" y="539.8" width="2.5" height="30.7"/><rect x="266.2" y="538.7" width="2.5" height="25.3"/><rect x="273.2" y="527.8" width="2.5" height="15.4"/><rect x="277.2" y="543.1" width="2.5" height="7.4"/><rect x="280.2" y="550.5" width="2.5" height="19.4"/><rect x="304.2" y="435.3" width="2.5" height="27.9"/><rect x="315.2" y="435" width="2.5" height="36.3"/><rect x="325.2" y="421.1" width="2.5" height="59.8"/><rect x="335.2" y="443.6" width="2.5" height="46.8"/><rect x="346.2" y="453.2" width="2.5" height="2.5"/><rect x="349.2" y="455.8" width="2.5" height="19.4"/><rect x="352.2" y="475.1" width="2.5" height="47.2"/><rect x="373.2" y="389.3" width="2.5" height="11.6"/><rect x="380.2" y="366.3" width="2.5" height="2"/><rect x="383.2" y="368.4" width="2.5" height="5"/><rect x="387.2" y="373.4" width="2.5" height="7"/><rect x="390.2" y="380.4" width="2.5" height="1.6"/><rect x="397.2" y="367.4" width="2.5" height="46.4"/><rect x="401.2" y="413.7" width="2.5" height="23.7"/><rect x="421.2" y="355.4" width="2.5" height="28"/><rect x="439.2" y="320.9" width="2.5" height="6.3"/><rect x="442.2" y="327.2" width="2.5" height="11.9"/><rect x="449.2" y="315.4" width="2.5" height="5.1"/><rect x="470.2" y="215.6" width="2.5" height="24.4"/><rect x="477.2" y="207.1" width="2.5" height="1.1"/><rect x="480.2" y="208.2" width="2.5" height="51.1"/><rect x="490.2" y="252.4" width="2.5" height="7.7"/><rect x="494.2" y="260.2" width="2.5" height="105.2"/><rect x="497.2" y="365.4" width="2.5" height="68.3"/><rect x="501.2" y="433.8" width="2.5" height="169.5"/><rect x="504.2" y="603.3" width="2.5" height="172.8"/><rect x="511.2" y="705.7" width="2.5" height="43.1"/><rect x="521.2" y="644.1" width="2.5" height="40.5"/><rect x="528.2" y="627.3" width="2.5" height="2.7"/><rect x="532.2" y="630" width="2.5" height="29.9"/><rect x="546.2" y="470.9" width="2.5" height="20.4"/><rect x="552.2" y="449.5" width="2.5" height="30.3"/><rect x="566.2" y="379.6" width="2.5" height="5.6"/><rect x="573.2" y="379.4" width="2.5" height="1.5"/><rect x="577.2" y="380.9" width="2.5" height="15.7"/><rect x="587.2" y="387.9" width="2.5" height="10"/><rect x="590.2" y="397.8" width="2.5" height="31.9"/><rect x="594.2" y="429.7" width="2.5" height="0.9"/><rect x="597.2" y="430.5" width="2.5" height="14.3"/><rect x="601.2" y="444.8" width="2.5" height="33"/><rect x="614.2" y="397.6" width="2.5" height="80.9"/><rect x="642.2" y="212.1" width="2.5" height="1.8"/><rect x="652.2" y="134.1" width="2.5" height="52.3"/><rect x="656.2" y="186.4" width="2.5" height="32.8"/><rect x="659.2" y="219.2" width="2.5" height="25.6"/><rect x="666.2" y="187.6" width="2.5" height="9"/><rect x="670.2" y="196.6" width="2.5" height="11"/><rect x="673.2" y="207.6" width="2.5" height="92.9"/><rect x="680.2" y="243.3" width="2.5" height="11.5"/><rect x="687.2" y="232.1" width="2.5" height="15.9"/><rect x="701.2" y="177.9" width="2.5" height="6.5"/><rect x="704.2" y="184.4" width="2.5" height="18.1"/><rect x="711.2" y="167.7" width="2.5" height="1.7"/><rect x="725.2" y="78.2" width="2.5" height="7.6"/><rect x="728.2" y="85.8" width="2.5" height="11.5"/><rect x="732.2" y="97.2" width="2.5" height="12.7"/><rect x="739.2" y="105.9" width="2.5" height="24.3"/><rect x="745.2" y="124.3" width="2.5" height="10"/><rect x="749.2" y="134.3" width="2.5" height="36"/><rect x="756.2" y="159.1" width="2.5" height="17.9"/><rect x="759.2" y="177" width="2.5" height="34.8"/><rect x="766.2" y="182.7" width="2.5" height="41.4"/><rect x="770.2" y="224.2" width="2.5" height="29.3"/><rect x="773.2" y="253.5" width="2.5" height="31.5"/><rect x="780.2" y="264.6" width="2.5" height="4.2"/><rect x="783.2" y="268.8" width="2.5" height="0.9"/><rect x="790.2" y="249.5" width="2.5" height="92.4"/><rect x="794.2" y="341.9" width="2.5" height="30.9"/><rect x="804.2" y="341.5" width="2.5" height="36.5"/><rect x="808.2" y="378" width="2.5" height="9"/><rect x="818.2" y="325.7" width="2.5" height="6.2"/><rect x="821.2" y="331.9" width="2.5" height="25.6"/><rect x="825.2" y="357.5" width="2.5" height="0.9"/><rect x="828.2" y="358.2" width="2.5" height="23.3"/><rect x="849.2" y="261.4" width="2.5" height="7.7"/><rect x="859.2" y="251.4" width="2.5" height="30.6"/><rect x="873.2" y="172.9" width="2.5" height="35.9"/><rect x="876.2" y="208.8" width="2.5" height="23.7"/><rect x="880.2" y="232.5" width="2.5" height="56.5"/><rect x="883.2" y="289" width="2.5" height="35.4"/><rect x="887.2" y="324.4" width="2.5" height="30.3"/><rect x="901.2" y="279.4" width="2.5" height="9.3"/><rect x="904.2" y="288.7" width="2.5" height="62.2"/><rect x="907.2" y="350.9" width="2.5" height="62.6"/><rect x="911.2" y="413.5" width="2.5" height="12.8"/><rect x="921.2" y="408.4" width="2.5" height="41.4"/><rect x="939.2" y="270.3" width="2.5" height="14"/><rect x="945.2" y="275.5" width="2.5" height="15.9"/><rect x="952.2" y="275.5" width="2.5" height="33.4"/><rect x="959.2" y="281.9" width="2.5" height="18.6"/><rect x="966.2" y="230.4" width="2.5" height="47.6"/><rect x="973.2" y="191" width="2.5" height="59.7"/><rect x="980.2" y="210.7" width="2.5" height="65.3"/><rect x="983.2" y="276" width="2.5" height="37.4"/><rect x="994.2" y="279.6" width="2.5" height="48.7"/><rect x="997.2" y="328.4" width="2.5" height="51.6"/><rect x="1007.2" y="303.8" width="2.5" height="8.5"/><rect x="1021.2" y="275.3" width="2.5" height="42"/><rect x="1025.2" y="317.3" width="2.5" height="4.9"/><rect x="1032.2" y="310" width="2.5" height="37.4"/><rect x="1035.2" y="347.4" width="2.5" height="21.4"/><rect x="1038.2" y="368.8" width="2.5" height="2.7"/><rect x="1042.2" y="371.5" width="2.5" height="18.1"/><rect x="1045.2" y="389.7" width="2.5" height="34.9"/><rect x="1052.2" y="390.8" width="2.5" height="11.7"/><rect x="1059.2" y="342.1" width="2.5" height="21.2"/><rect x="1094.2" y="201.6" width="2.5" height="9.9"/></g>
<polyline points="5.7,819.3 9.2,819.3 12.6,819.3 16.1,806 19.5,801.1 23,801.1 26.4,801.1 29.9,801.1 33.3,801.1 36.8,801.1 40.2,799 43.7,786.6 47.1,782.8 50.6,776.5 54,761 57.5,761 60.9,761 64.3,759.8 67.8,754.9 71.2,753.8 74.7,753.8 78.1,753.8 81.6,753.8 85,753.8 88.5,753.8 91.9,753.8 95.4,753.8 98.8,753.8 102.3,753.7 105.7,747.7 109.2,735.9 112.6,720.7 116.1,711.2 119.5,682.4 123,672.4 126.4,670.1 129.9,662.1 133.3,642.9 136.7,632.5 140.2,632.5 143.6,632.5 147.1,632.5 150.5,632.5 154,632.5 157.4,632.5 160.9,632.5 164.3,632.5 167.8,632.5 171.2,631.4 174.7,630.5 178.1,630.5 181.6,630 185,635.7 188.5,643.2 191.9,647.3 195.4,647.3 198.8,647.3 202.2,647.3 205.7,647.3 209.1,647.3 212.6,647.3 216,647.3 219.5,647.3 222.9,647.3 226.4,652.6 229.8,652.6 233.3,653.5 236.7,653.5 240.2,653.5 243.6,653.5 247.1,652.6 250.5,652.6 254,652.6 257.4,643.2 260.9,640.1 264.3,640.1 267.8,640.1 271.2,636.6 274.6,631.3 278.1,631.3 281.5,627.2 285,616.8 288.4,595.4 291.9,586.6 295.3,575 298.8,565.8 302.2,563.7 305.7,562.9 309.1,562.9 312.6,562.9 316,562.9 319.5,562.9 322.9,551.1 326.4,534.7 329.8,524.8 333.3,508.4 336.7,504.9 340.1,504 343.6,504 347,498.1 350.5,498.1 353.9,498.1 357.4,498.1 360.8,498.1 364.3,498.1 367.7,498.1 371.2,489.5 374.6,465.8 378.1,446.8 381.5,432.6 385,432.6 388.4,432.6 391.9,432.6 395.3,432.6 398.8,432.6 402.2,432.6 405.7,432.6 409.1,432.6 412.5,432.6 416,432.6 419.4,432.6 422.9,432.6 426.3,432.6 429.8,432.6 433.2,425.4 436.7,422.1 440.1,415.4 443.6,413.8 447,396.1 450.5,380.8 453.9,371.3 457.4,363.8 460.8,348.6 464.3,335.8 467.7,330.8 471.2,330.8 474.6,329.2 478,326.1 481.5,326.1 484.9,326.1 488.4,326.1 491.8,326.1 495.3,306.1 498.7,319.8 502.2,477.5 505.6,515.1 509.1,515.1 512.5,515.1 516,515.1 519.4,515.1 522.9,515.1 526.3,515.1 529.8,515.1 533.2,515.1 536.7,515.1 540.1,515.1 543.6,515.1 547,515.1 550.4,515.1 553.9,515.1 557.3,515.1 560.8,515.1 564.2,515.1 567.7,519.8 571.1,524.5 574.6,526.5 578,532 581.5,543.1 584.9,575.3 588.4,592 591.8,592 595.3,589.4 598.7,558.1 602.2,548.5 605.6,534.7 609.1,534.7 612.5,516.5 615.9,514.4 619.4,514.4 622.8,504.2 626.3,468.5 629.7,419.6 633.2,386.9 636.6,380 640.1,341.9 643.5,341.9 647,336.9 650.4,308.5 653.9,306.6 657.3,306.6 660.8,306.6 664.2,306.6 667.7,306.6 671.1,306.6 674.6,306.6 678,306.6 681.5,306.6 684.9,306.6 688.3,306.6 691.8,306.6 695.2,306.6 698.7,306.6 702.1,306.6 705.6,306.6 709,268.3 712.5,246.7 715.9,240.4 719.4,227.1 722.8,201.5 726.3,198 729.7,198 733.2,198 736.6,198 740.1,198 743.5,198 747,198 750.4,198 753.8,198 757.3,198 760.7,198 764.2,198 767.6,187.2 771.1,178 774.5,178 778,197.1 781.4,197.1 784.9,197.1 788.3,197.1 791.8,223 795.2,223 798.7,223 802.1,223 805.6,227 809,230 812.5,238 815.9,239 819.4,245.5 822.8,246.9 826.2,246.9 829.7,246.9 833.1,263 836.6,263 840,275 843.5,282.5 846.9,291 850.4,294 853.8,295 857.3,314 860.7,316 864.2,322.5 867.6,301.5 871.1,290 874.5,290 878,290 881.4,290 884.9,290 888.3,290 891.7,290 895.2,290 898.6,290 902.1,285.9 905.5,285.9 909,299 912.4,302.5 915.9,305.9 919.3,305.9 922.8,316.9 926.2,316.9 929.7,316.9 933.1,316.9 936.6,316.9 940,316.9 943.5,316.9 946.9,316.9 950.4,316.9 953.8,316.9 957.3,316.9 960.7,317.9 964.1,334.4 967.6,335.9 971,322.7 974.5,322.7 977.9,322.7 981.4,322.7 984.8,322.7 988.3,322.7 991.7,322.7 995.2,322.7 998.6,322.7 1002.1,322.7 1005.5,322.7 1009,322.7 1012.4,315.8 1015.9,304.3 1019.3,287.1 1022.8,287.1 1026.2,287.1 1029.6,287.1 1033.1,287.1 1036.5,287.1 1040,287.1 1043.4,292.4 1046.9,313.3 1050.3,313.3 1053.8,313.3 1057.2,313.3 1060.7,316.5 1064.1,317.5 1067.6,326.5 1071,346.2 1074.5,346.2 1077.9,346.2 1081.4,346.2 1084.8,331.2 1088.3,319.5 1091.7,315 1095.2,315 1098.6,315" fill="none" stroke="#b63c42" stroke-width="1.2" stroke-linejoin="round"/>
<polyline points="5.7,794.3 9.2,797.7 12.6,801.1 16.1,801.1 19.5,801.1 23,801.1 26.4,817.3 29.9,817.3 33.3,809.5 36.8,806.7 40.2,799 43.7,786.6 47.1,776.8 50.6,770.4 54,741.6 57.5,741.4 60.9,736.1 64.3,728.2 67.8,721.1 71.2,711.9 74.7,699 78.1,693.3 81.6,693.9 85,693.9 88.5,693.9 91.9,693.9 95.4,693.9 98.8,693.9 102.3,698 105.7,697.2 109.2,682.1 112.6,679.2 116.1,668.9 119.5,645.5 123,641.6 126.4,641.2 129.9,640.1 133.3,619.1 136.7,609.4 140.2,593.5 143.6,591.6 147.1,584.9 150.5,584.9 154,584.9 157.4,584.9 160.9,570.9 164.3,570.9 167.8,576.3 171.2,579.4 174.7,580.3 178.1,601.8 181.6,619 185,641.9 188.5,649.5 191.9,653.5 195.4,655.4 198.8,655.4 202.2,655.4 205.7,671.6 209.1,691.2 212.6,683.5 216,683.5 219.5,683.5 222.9,679.3 226.4,668.9 229.8,655.1 233.3,655.6 236.7,655.6 240.2,655.6 243.6,635.4 247.1,624.7 250.5,624.7 254,624.7 257.4,615.4 260.9,612.2 264.3,605.1 267.8,594.5 271.2,581.1 274.6,559.5 278.1,555.9 281.5,555 285,555 288.4,541.1 291.9,532.3 295.3,520.6 298.8,511.5 302.2,509.4 305.7,508.6 309.1,508.6 312.6,508.6 316,488.1 319.5,468.4 322.9,452.1 326.4,445.4 329.8,455.5 333.3,455.5 336.7,455.5 340.1,455.5 343.6,455.5 347,455.5 350.5,455.5 353.9,467.1 357.4,482.7 360.8,480.7 364.3,478.8 367.7,473.4 371.2,458.4 374.6,455.2 378.1,446.8 381.5,432.6 385,430.9 388.4,413.2 391.9,398 395.3,392.2 398.8,388.7 402.2,390.7 405.7,397.6 409.1,397.6 412.5,407.9 416,401.5 419.4,401.5 422.9,401.5 426.3,401.5 429.8,401.5 433.2,390.4 436.7,367.1 440.1,357.8 443.6,357.8 447,357.8 450.5,357.8 453.9,348.7 457.4,320 460.8,301.3 464.3,283.8 467.7,278.8 471.2,278.8 474.6,276.2 478,268.2 481.5,261.1 484.9,242.3 488.4,235.7 491.8,235.7 495.3,303.2 498.7,319.8 502.2,477.5 505.6,515.1 509.1,519.8 512.5,524.5 516,526.5 519.4,532 522.9,543.1 526.3,575.3 529.8,634.7 533.2,714 536.7,711.4 540.1,655.2 543.6,594.8 547,578.9 550.4,578.9 553.9,560.6 557.3,557.8 560.8,542.8 564.2,519.2 567.7,481.4 571.1,452.5 574.6,434.2 578,434.2 581.5,417.3 584.9,417.3 588.4,399.6 591.8,392.5 595.3,392.5 598.7,404.2 602.2,422.9 605.6,423.3 609.1,430 612.5,430 615.9,430 619.4,435.6 622.8,419.6 626.3,404.8 629.7,383.5 633.2,369.1 636.6,362.3 640.1,341 643.5,341 647,336.9 650.4,270.2 653.9,246.7 657.3,240.4 660.8,221 664.2,200.6 667.7,190.2 671.1,189.8 674.6,217.1 678,229.3 681.5,229.3 684.9,245.8 688.3,254.2 691.8,254.2 695.2,255.4 698.7,252.5 702.1,249.2 705.6,249.2 709,235 712.5,223.7 715.9,220.4 719.4,189.2 722.8,159.3 726.3,142.8 729.7,141.3 733.2,141.3 736.6,141.3 740.1,131.3 743.5,119.2 747,114.8 750.4,120 753.8,124 757.3,128.5 760.7,163.8 764.2,165.1 767.6,165.1 771.1,176.9 774.5,203 778,222.1 781.4,234.2 784.9,241.7 788.3,250.1 791.8,279 795.2,280 798.7,299 802.1,301 805.6,314 809,317 812.5,325 815.9,325 819.4,327.7 822.8,358.3 826.2,358.3 829.7,358.3 833.1,358.3 836.6,356.2 840,340 843.5,330.9 846.9,324.2 850.4,319.6 853.8,319.6 857.3,318.4 860.7,317 864.2,286 867.6,259.2 871.1,247.6 874.5,247.6 878,247.6 881.4,247.6 884.9,249 888.3,268.8 891.7,277.5 895.2,277.5 898.6,277.5 902.1,278.5 905.5,295 909,329 912.4,353.3 915.9,356.7 919.3,356.7 922.8,367.7 926.2,367.7 929.7,367.7 933.1,374.4 936.6,364.4 940,358.1 943.5,358.1 946.9,358.1 950.4,358.1 953.8,351.3 957.3,339.8 960.7,322.3 964.1,275 967.6,275 971,261.8 974.5,261.8 977.9,261.8 981.4,261.8 984.8,261.8 988.3,261.8 991.7,256.4 995.2,256.9 998.6,287.1 1002.1,290.3 1005.5,291.2 1009,300.2 1012.4,323.3 1015.9,328.2 1019.3,320 1022.8,320 1026.2,320 1029.6,314.8 1033.1,307.8 1036.5,312.1 1040,312.1 1043.4,325.2 1046.9,346.2 1050.3,352.5 1053.8,370.5 1057.2,370.5 1060.7,376.5 1064.1,382.5 1067.6,382.5 1071,380 1074.5,366.3 1077.9,354.2 1081.4,339.6 1084.8,311.2 1088.3,296.5 1091.7,292 1095.2,292 1098.6,270.5" fill="none" stroke="#5a8df8" stroke-width="1.2" stroke-linejoin="round"/>
<polyline points="-80.4,829.8 -77,836.3 -73.5,842.3 -70.1,822.2 -66.7,828.6 -63.2,794.1 -59.8,802.4 -56.3,793.5 -52.9,777.9 -49.4,772.8 -46,757.8 -42.5,731.7 -39.1,722.3 -35.6,709.5 -32.2,679.9 -28.7,684 -25.3,696.1 -21.8,676.6 -18.4,666.3 -14.9,672.9 -11.5,677.5 -8,700.3 -4.6,719.6 -1.2,705.6 2.3,697.6 5.7,718.6 9.2,713.4 12.6,714.8 16.1,686.2 19.5,672.8 23,643.2 26.4,640.1 29.9,619.4 33.3,571.7 36.8,588.2 40.2,623 43.7,582.9 47.1,552.2 50.6,569.2 54,562.4 57.5,578.9 60.9,584.5 64.4,573.6 67.8,579.6 71.2,585 74.7,571.5 78.1,561.6 81.6,598.4 85,575.2 88.5,598.8 91.9,645.1 95.4,663.5 98.8,711.1 102.3,735.2 105.7,736.5 109.2,713 112.6,688.2 116.1,670.6 119.5,648.8 123,634.4 126.4,617.1 129.9,671.5 133.3,676.9 136.7,674.3 140.2,669.7 143.6,672.6 147.1,683.5 150.5,639.1 154,640.2 157.4,607.3 160.9,600.6 164.3,586.2 167.8,569.6 171.2,539.8 174.7,570.5 178.1,538.7 181.6,564 185,527.8 188.5,543.1 191.9,550.5 195.4,569.9 198.8,545.7 202.2,501.9 205.7,481.8 209.1,454.8 212.6,437.3 216,435.3 219.5,463.1 222.9,439 226.4,435 229.8,471.3 233.3,462.9 236.7,421.1 240.2,480.9 243.6,462.3 247.1,443.6 250.5,490.4 254,471.6 257.4,453.2 260.9,455.8 264.3,475.1 267.8,522.3 271.2,482.1 274.6,444.5 278.1,435.7 281.5,433.3 285,389.3 288.4,400.9 291.9,366.3 295.3,368.4 298.8,373.4 302.2,380.4 305.7,382 309.1,367.4 312.6,413.7 316,437.4 319.5,399 322.9,379.1 326.4,372.8 329.8,358.3 333.3,355.4 336.7,383.4 340.1,369.2 343.6,359.3 347,330.1 350.5,320.9 353.9,327.2 357.4,339 360.8,315.4 364.3,320.5 367.7,288.5 371.2,272.5 374.6,244.2 378.1,228.6 381.5,215.6 385,240 388.4,207.1 391.9,208.2 395.3,259.3 398.8,259.2 402.2,252.4 405.7,260.2 409.1,365.4 412.5,433.8 416,603.3 419.4,776.1 422.9,705.7 426.3,748.7 429.8,658.6 433.2,644.1 436.7,684.6 440.1,627.3 443.6,630 447,660 450.5,608.9 453.9,551 457.4,470.9 460.8,491.3 464.3,449.5 467.7,479.8 471.2,447.4 474.6,411.2 478,379.6 481.5,385.2 484.9,379.4 488.4,380.9 491.8,396.6 495.3,394.8 498.7,387.9 502.2,397.8 505.6,429.7 509.1,430.5 512.5,444.8 516,477.8 519.4,439.4 522.9,430.3 526.3,397.6 529.8,478.5 533.2,401.4 536.7,359.3 540.1,344.7 543.6,294.6 547,259.4 550.4,244.2 553.9,212.1 557.3,214 560.8,201.1 564.2,134.1 567.7,186.4 571.1,219.2 574.6,244.8 578,187.6 581.5,196.6 584.9,207.6 588.4,300.5 591.8,243.3 595.3,254.9 598.7,232.1 602.2,248 605.6,242.8 609.1,216 612.5,177.9 615.9,184.4 619.4,202.5 622.8,167.7 626.3,169.4 629.7,161.6 633.2,128.7 636.6,78.2 640.1,85.8 643.5,97.2 647,109.9 650.4,105.9 653.9,130.2 657.3,124.3 660.8,134.3 664.2,170.3 667.7,159.1 671.1,177 674.6,211.8 678,182.7 681.5,224.2 684.9,253.5 688.3,285 691.8,264.6 695.2,268.8 698.7,269.6 702.1,249.5 705.6,341.9 709,372.8 712.5,358.2 715.9,341.5 719.4,378 722.8,387 726.3,355.5 729.7,325.7 733.2,331.9 736.6,357.5 740.1,358.2 743.5,381.5 747,334.9 750.4,312.6 753.8,279.8 757.3,276.1 760.7,261.4 764.2,269 767.6,266.1 771.1,251.4 774.5,282 778,242.1 781.4,200.4 784.9,172.9 788.3,208.8 791.8,232.5 795.2,289 798.7,324.4 802.1,354.8 805.6,335 809,317.6 812.5,279.4 815.9,288.7 819.4,350.9 822.8,413.5 826.2,426.3 829.7,423.2 833.1,408.4 836.6,449.8 840,423.5 843.5,376.6 846.9,340 850.4,270.3 853.8,284.4 857.3,275.5 860.7,291.4 864.2,275.5 867.6,308.9 871.1,281.9 874.5,300.5 878,230.4 881.4,278 884.9,191 888.3,250.7 891.7,210.7 895.2,276 898.6,313.4 902.1,312.2 905.5,279.6 909,328.4 912.4,380 915.9,304.3 919.3,303.8 922.8,312.4 926.2,290.8 929.7,278.3 933.1,275.3 936.6,317.3 940,322.2 943.5,310 946.9,347.4 950.4,368.8 953.8,371.5 957.3,389.7 960.7,424.6 964.1,390.8 967.6,402.5 971,342.1 974.5,363.3 977.9,362.5 981.4,354.6 984.8,317.9 988.3,292.7 991.7,290.9 995.2,272.6 998.6,223.2 1002.1,204 1005.5,201.6 1009,211.4 1012.4,200.5" fill="none" stroke="#4ea854" stroke-width="1.15" stroke-linejoin="round"/>
<g fill="#2962ff"><circle cx="5.7" cy="759.4" r="1.35"/><circle cx="9.2" cy="760.9" r="1.35"/><circle cx="12.6" cy="763.9" r="1.35"/><circle cx="16.1" cy="768.7" r="1.35"/><circle cx="19.5" cy="773.3" r="1.35"/><circle cx="23" cy="777.5" r="1.35"/><circle cx="26.4" cy="781.5" r="1.35"/><circle cx="29.9" cy="785.3" r="1.35"/><circle cx="33.3" cy="844.1" r="1.35"/><circle cx="36.8" cy="842.8" r="1.35"/><circle cx="40.2" cy="839.8" r="1.35"/><circle cx="43.7" cy="834.7" r="1.35"/><circle cx="47.1" cy="826.2" r="1.35"/><circle cx="50.6" cy="815.7" r="1.35"/><circle cx="54" cy="802.9" r="1.35"/><circle cx="57.5" cy="785.4" r="1.35"/><circle cx="60.9" cy="770.3" r="1.35"/><circle cx="64.3" cy="757.4" r="1.35"/><circle cx="67.8" cy="744.3" r="1.35"/><circle cx="71.2" cy="730.1" r="1.35"/><circle cx="74.7" cy="716.8" r="1.35"/><circle cx="78.1" cy="706.1" r="1.35"/><circle cx="81.6" cy="663.4" r="1.35"/><circle cx="85" cy="664.6" r="1.35"/><circle cx="88.5" cy="665.8" r="1.35"/><circle cx="91.9" cy="667" r="1.35"/><circle cx="95.4" cy="668.1" r="1.35"/><circle cx="98.8" cy="669.3" r="1.35"/><circle cx="102.3" cy="670.4" r="1.35"/><circle cx="105.7" cy="724.4" r="1.35"/><circle cx="109.2" cy="723.3" r="1.35"/><circle cx="112.6" cy="720" r="1.35"/><circle cx="116.1" cy="714.9" r="1.35"/><circle cx="119.5" cy="707.1" r="1.35"/><circle cx="123" cy="693.5" r="1.35"/><circle cx="126.4" cy="677.9" r="1.35"/><circle cx="129.9" cy="664.2" r="1.35"/><circle cx="133.3" cy="652.2" r="1.35"/><circle cx="136.7" cy="638" r="1.35"/><circle cx="140.2" cy="622.4" r="1.35"/><circle cx="143.6" cy="609.4" r="1.35"/><circle cx="147.1" cy="598.4" r="1.35"/><circle cx="150.5" cy="540.6" r="1.35"/><circle cx="154" cy="541.8" r="1.35"/><circle cx="157.4" cy="543" r="1.35"/><circle cx="160.9" cy="544.1" r="1.35"/><circle cx="164.3" cy="546.4" r="1.35"/><circle cx="167.8" cy="548.6" r="1.35"/><circle cx="171.2" cy="550.7" r="1.35"/><circle cx="174.7" cy="554.1" r="1.35"/><circle cx="178.1" cy="556.9" r="1.35"/><circle cx="181.6" cy="556.9" r="1.35"/><circle cx="185" cy="569.7" r="1.35"/><circle cx="188.5" cy="589" r="1.35"/><circle cx="191.9" cy="611" r="1.35"/><circle cx="195.4" cy="633.8" r="1.35"/><circle cx="198.8" cy="653.1" r="1.35"/><circle cx="202.2" cy="753.9" r="1.35"/><circle cx="205.7" cy="752.2" r="1.35"/><circle cx="209.1" cy="747.9" r="1.35"/><circle cx="212.6" cy="740.8" r="1.35"/><circle cx="216" cy="730.6" r="1.35"/><circle cx="219.5" cy="721.2" r="1.35"/><circle cx="222.9" cy="712.5" r="1.35"/><circle cx="226.4" cy="704.5" r="1.35"/><circle cx="229.8" cy="697.2" r="1.35"/><circle cx="233.3" cy="613" r="1.35"/><circle cx="236.7" cy="614.7" r="1.35"/><circle cx="240.2" cy="616.4" r="1.35"/><circle cx="243.6" cy="698.2" r="1.35"/><circle cx="247.1" cy="695.7" r="1.35"/><circle cx="250.5" cy="689.9" r="1.35"/><circle cx="254" cy="684.4" r="1.35"/><circle cx="257.4" cy="679.1" r="1.35"/><circle cx="260.9" cy="670.3" r="1.35"/><circle cx="264.3" cy="658.8" r="1.35"/><circle cx="267.8" cy="648.2" r="1.35"/><circle cx="271.2" cy="638.4" r="1.35"/><circle cx="274.6" cy="626.5" r="1.35"/><circle cx="278.1" cy="612.4" r="1.35"/><circle cx="281.5" cy="599.9" r="1.35"/><circle cx="285" cy="508.7" r="1.35"/><circle cx="288.4" cy="589.6" r="1.35"/><circle cx="291.9" cy="589.6" r="1.35"/><circle cx="295.3" cy="585" r="1.35"/><circle cx="298.8" cy="577" r="1.35"/><circle cx="302.2" cy="565.5" r="1.35"/><circle cx="305.7" cy="551.9" r="1.35"/><circle cx="309.1" cy="537" r="1.35"/><circle cx="312.6" cy="523.8" r="1.35"/><circle cx="316" cy="512.3" r="1.35"/><circle cx="319.5" cy="502.1" r="1.35"/><circle cx="322.9" cy="493.2" r="1.35"/><circle cx="326.4" cy="406.7" r="1.35"/><circle cx="329.8" cy="406.7" r="1.35"/><circle cx="333.3" cy="406.7" r="1.35"/><circle cx="336.7" cy="410.6" r="1.35"/><circle cx="340.1" cy="414.3" r="1.35"/><circle cx="343.6" cy="417.9" r="1.35"/><circle cx="347" cy="421.4" r="1.35"/><circle cx="350.5" cy="424.7" r="1.35"/><circle cx="353.9" cy="427.9" r="1.35"/><circle cx="357.4" cy="433.9" r="1.35"/><circle cx="360.8" cy="527.5" r="1.35"/><circle cx="364.3" cy="525.6" r="1.35"/><circle cx="367.7" cy="521.8" r="1.35"/><circle cx="371.2" cy="515.6" r="1.35"/><circle cx="374.6" cy="505.5" r="1.35"/><circle cx="378.1" cy="493.3" r="1.35"/><circle cx="381.5" cy="478" r="1.35"/><circle cx="385" cy="458.4" r="1.35"/><circle cx="388.4" cy="441.5" r="1.35"/><circle cx="391.9" cy="426.9" r="1.35"/><circle cx="395.3" cy="337.7" r="1.35"/><circle cx="398.8" cy="339.2" r="1.35"/><circle cx="402.2" cy="342.3" r="1.35"/><circle cx="405.7" cy="348.4" r="1.35"/><circle cx="409.1" cy="357.1" r="1.35"/><circle cx="412.5" cy="457.5" r="1.35"/><circle cx="416" cy="455.6" r="1.35"/><circle cx="419.4" cy="451.2" r="1.35"/><circle cx="422.9" cy="447" r="1.35"/><circle cx="426.3" cy="442.9" r="1.35"/><circle cx="429.8" cy="439" r="1.35"/><circle cx="433.2" cy="435.3" r="1.35"/><circle cx="436.7" cy="428.6" r="1.35"/><circle cx="440.1" cy="419.6" r="1.35"/><circle cx="443.6" cy="408" r="1.35"/><circle cx="447" cy="397.5" r="1.35"/><circle cx="450.5" cy="388.1" r="1.35"/><circle cx="453.9" cy="379.6" r="1.35"/><circle cx="457.4" cy="368.3" r="1.35"/><circle cx="460.8" cy="354.5" r="1.35"/><circle cx="464.3" cy="336.2" r="1.35"/><circle cx="467.7" cy="314.2" r="1.35"/><circle cx="471.2" cy="292.2" r="1.35"/><circle cx="474.6" cy="274.6" r="1.35"/><circle cx="478" cy="259.8" r="1.35"/><circle cx="481.5" cy="194.7" r="1.35"/><circle cx="484.9" cy="194.7" r="1.35"/><circle cx="488.4" cy="196.2" r="1.35"/><circle cx="491.8" cy="199.4" r="1.35"/><circle cx="495.3" cy="202.5" r="1.35"/><circle cx="498.7" cy="215" r="1.35"/><circle cx="502.2" cy="233.4" r="1.35"/><circle cx="505.6" cy="286.1" r="1.35"/><circle cx="509.1" cy="352" r="1.35"/><circle cx="512.5" cy="410.1" r="1.35"/><circle cx="516" cy="461.1" r="1.35"/><circle cx="519.4" cy="506.1" r="1.35"/><circle cx="522.9" cy="545.6" r="1.35"/><circle cx="526.3" cy="580.4" r="1.35"/><circle cx="529.8" cy="592.5" r="1.35"/><circle cx="533.2" cy="592.5" r="1.35"/><circle cx="536.7" cy="835.6" r="1.35"/><circle cx="540.1" cy="830.8" r="1.35"/><circle cx="543.6" cy="819.3" r="1.35"/><circle cx="547" cy="796.6" r="1.35"/><circle cx="550.4" cy="767.8" r="1.35"/><circle cx="553.9" cy="741.3" r="1.35"/><circle cx="557.3" cy="716.9" r="1.35"/><circle cx="560.8" cy="688.7" r="1.35"/><circle cx="564.2" cy="654.7" r="1.35"/><circle cx="567.7" cy="616" r="1.35"/><circle cx="571.1" cy="573.6" r="1.35"/><circle cx="574.6" cy="533" r="1.35"/><circle cx="578" cy="499.8" r="1.35"/><circle cx="581.5" cy="472.5" r="1.35"/><circle cx="584.9" cy="450.2" r="1.35"/><circle cx="588.4" cy="431.8" r="1.35"/><circle cx="591.8" cy="348.3" r="1.35"/><circle cx="595.3" cy="350.1" r="1.35"/><circle cx="598.7" cy="351.8" r="1.35"/><circle cx="602.2" cy="356.2" r="1.35"/><circle cx="605.6" cy="363.8" r="1.35"/><circle cx="609.1" cy="371.1" r="1.35"/><circle cx="612.5" cy="377.8" r="1.35"/><circle cx="615.9" cy="384.2" r="1.35"/><circle cx="619.4" cy="386.7" r="1.35"/><circle cx="622.8" cy="484.5" r="1.35"/><circle cx="626.3" cy="484.5" r="1.35"/><circle cx="629.7" cy="478.2" r="1.35"/><circle cx="633.2" cy="466.4" r="1.35"/><circle cx="636.6" cy="449.4" r="1.35"/><circle cx="640.1" cy="428.5" r="1.35"/><circle cx="643.5" cy="400.7" r="1.35"/><circle cx="647" cy="376.4" r="1.35"/><circle cx="650.4" cy="350.1" r="1.35"/><circle cx="653.9" cy="315.3" r="1.35"/><circle cx="657.3" cy="281.7" r="1.35"/><circle cx="660.8" cy="254.2" r="1.35"/><circle cx="664.2" cy="128.7" r="1.35"/><circle cx="667.7" cy="131.1" r="1.35"/><circle cx="671.1" cy="133.5" r="1.35"/><circle cx="674.6" cy="135.9" r="1.35"/><circle cx="678" cy="142.7" r="1.35"/><circle cx="681.5" cy="153.9" r="1.35"/><circle cx="684.9" cy="164.5" r="1.35"/><circle cx="688.3" cy="174.4" r="1.35"/><circle cx="691.8" cy="183.7" r="1.35"/><circle cx="695.2" cy="192.5" r="1.35"/><circle cx="698.7" cy="330" r="1.35"/><circle cx="702.1" cy="326.9" r="1.35"/><circle cx="705.6" cy="320.6" r="1.35"/><circle cx="709" cy="314.5" r="1.35"/><circle cx="712.5" cy="305.3" r="1.35"/><circle cx="715.9" cy="293.5" r="1.35"/><circle cx="719.4" cy="279.2" r="1.35"/><circle cx="722.8" cy="260.6" r="1.35"/><circle cx="726.3" cy="234.3" r="1.35"/><circle cx="729.7" cy="207.4" r="1.35"/><circle cx="733.2" cy="184.8" r="1.35"/><circle cx="736.6" cy="165.8" r="1.35"/><circle cx="740.1" cy="149.8" r="1.35"/><circle cx="743.5" cy="142" r="1.35"/><circle cx="747" cy="66" r="1.35"/><circle cx="750.4" cy="67.9" r="1.35"/><circle cx="753.8" cy="72.1" r="1.35"/><circle cx="757.3" cy="78.7" r="1.35"/><circle cx="760.7" cy="87.5" r="1.35"/><circle cx="764.2" cy="103.4" r="1.35"/><circle cx="767.6" cy="117.7" r="1.35"/><circle cx="771.1" cy="130.6" r="1.35"/><circle cx="774.5" cy="147.3" r="1.35"/><circle cx="778" cy="167.3" r="1.35"/><circle cx="781.4" cy="193.1" r="1.35"/><circle cx="784.9" cy="214.7" r="1.35"/><circle cx="788.3" cy="232.9" r="1.35"/><circle cx="791.8" cy="380" r="1.35"/><circle cx="795.2" cy="380" r="1.35"/><circle cx="798.7" cy="245.5" r="1.35"/><circle cx="802.1" cy="248.2" r="1.35"/><circle cx="805.6" cy="250.8" r="1.35"/><circle cx="809" cy="256.3" r="1.35"/><circle cx="812.5" cy="264.5" r="1.35"/><circle cx="815.9" cy="276.2" r="1.35"/><circle cx="819.4" cy="286.9" r="1.35"/><circle cx="822.8" cy="296.7" r="1.35"/><circle cx="826.2" cy="305.8" r="1.35"/><circle cx="829.7" cy="314.1" r="1.35"/><circle cx="833.1" cy="321.8" r="1.35"/><circle cx="836.6" cy="410" r="1.35"/><circle cx="840" cy="407.9" r="1.35"/><circle cx="843.5" cy="402.3" r="1.35"/><circle cx="846.9" cy="393.8" r="1.35"/><circle cx="850.4" cy="382" r="1.35"/><circle cx="853.8" cy="367.6" r="1.35"/><circle cx="857.3" cy="354.6" r="1.35"/><circle cx="860.7" cy="340.2" r="1.35"/><circle cx="864.2" cy="327.6" r="1.35"/><circle cx="867.6" cy="325.3" r="1.35"/><circle cx="871.1" cy="325.3" r="1.35"/><circle cx="874.5" cy="300.5" r="1.35"/><circle cx="878" cy="279.6" r="1.35"/><circle cx="881.4" cy="170" r="1.35"/><circle cx="884.9" cy="172.4" r="1.35"/><circle cx="888.3" cy="178.7" r="1.35"/><circle cx="891.7" cy="190" r="1.35"/><circle cx="895.2" cy="205.6" r="1.35"/><circle cx="898.6" cy="219.9" r="1.35"/><circle cx="902.1" cy="233.2" r="1.35"/><circle cx="905.5" cy="245.3" r="1.35"/><circle cx="909" cy="256.5" r="1.35"/><circle cx="912.4" cy="273.6" r="1.35"/><circle cx="915.9" cy="293" r="1.35"/><circle cx="919.3" cy="313.8" r="1.35"/><circle cx="922.8" cy="331.7" r="1.35"/><circle cx="926.2" cy="352.8" r="1.35"/><circle cx="929.7" cy="463.8" r="1.35"/><circle cx="933.1" cy="461.8" r="1.35"/><circle cx="936.6" cy="456.7" r="1.35"/><circle cx="940" cy="445.2" r="1.35"/><circle cx="943.5" cy="429.8" r="1.35"/><circle cx="946.9" cy="415.6" r="1.35"/><circle cx="950.4" cy="402.6" r="1.35"/><circle cx="953.8" cy="390.6" r="1.35"/><circle cx="957.3" cy="379.5" r="1.35"/><circle cx="960.7" cy="369.4" r="1.35"/><circle cx="964.1" cy="360" r="1.35"/><circle cx="967.6" cy="344.8" r="1.35"/><circle cx="971" cy="331.1" r="1.35"/><circle cx="974.5" cy="313.2" r="1.35"/><circle cx="977.9" cy="297.4" r="1.35"/><circle cx="981.4" cy="181.7" r="1.35"/><circle cx="984.8" cy="184.5" r="1.35"/><circle cx="988.3" cy="190.3" r="1.35"/><circle cx="991.7" cy="196" r="1.35"/><circle cx="995.2" cy="201.4" r="1.35"/><circle cx="998.6" cy="209.2" r="1.35"/><circle cx="1002.1" cy="223.9" r="1.35"/><circle cx="1005.5" cy="237.4" r="1.35"/><circle cx="1009" cy="249.8" r="1.35"/><circle cx="1012.4" cy="261.2" r="1.35"/><circle cx="1015.9" cy="392.5" r="1.35"/><circle cx="1019.3" cy="389.9" r="1.35"/><circle cx="1022.8" cy="384.2" r="1.35"/><circle cx="1026.2" cy="378.8" r="1.35"/><circle cx="1029.6" cy="373.5" r="1.35"/><circle cx="1033.1" cy="368.5" r="1.35"/><circle cx="1036.5" cy="247.5" r="1.35"/><circle cx="1040" cy="250.1" r="1.35"/><circle cx="1043.4" cy="252.6" r="1.35"/><circle cx="1046.9" cy="258.6" r="1.35"/><circle cx="1050.3" cy="269.8" r="1.35"/><circle cx="1053.8" cy="280.3" r="1.35"/><circle cx="1057.2" cy="290.2" r="1.35"/><circle cx="1060.7" cy="299.5" r="1.35"/><circle cx="1064.1" cy="308.2" r="1.35"/><circle cx="1067.6" cy="316.4" r="1.35"/><circle cx="1071" cy="445" r="1.35"/><circle cx="1074.5" cy="442.4" r="1.35"/><circle cx="1077.9" cy="436.2" r="1.35"/><circle cx="1081.4" cy="427" r="1.35"/><circle cx="1084.8" cy="414.2" r="1.35"/><circle cx="1088.3" cy="394.5" r="1.35"/><circle cx="1091.7" cy="370.4" r="1.35"/><circle cx="1095.2" cy="344.5" r="1.35"/><circle cx="1098.6" cy="322.1" r="1.35"/></g>
</g>
<g clip-path="url(#cr)">
<rect x="11" y="666" width="1276" height="143.7" fill="#f1edfa"/>
<line x1="11" y1="666" x2="1287" y2="666" stroke="#787b86" stroke-width="1.2" stroke-dasharray="6 6"/>
<line x1="11" y1="737.9" x2="1287" y2="737.9" stroke="#b4b6be" stroke-width="1.2" stroke-dasharray="6 6"/>
<line x1="11" y1="809.7" x2="1287" y2="809.7" stroke="#787b86" stroke-width="1.2" stroke-dasharray="6 6"/>
<polyline points="5.7,717.7 9.2,721.1 12.6,724.5 16.1,726.1 19.5,729 23,729.4 26.4,728.7 29.9,728.2 33.3,728.1 36.8,727.9 40.2,728.5 43.7,723.5 47.1,719.1 50.6,713.1 54,706 57.5,698.9 60.9,692.5 64.3,686.8 67.8,680.3 71.2,676.5 74.7,672.6 78.1,671.3 81.6,672.4 85,672.9 88.5,673.7 91.9,677.3 95.4,680.9 98.8,685.2 102.3,688.7 105.7,691.2 109.2,691.3 112.6,692 116.1,692.3 119.5,690.5 123,689.7 126.4,689.3 129.9,686 133.3,682.7 136.7,680.9 140.2,677.3 143.6,675.1 147.1,673.1 150.5,672.4 154,672.8 157.4,674.9 160.9,676.5 164.3,678.4 167.8,684.3 171.2,687.8 174.7,690.1 178.1,696.1 181.6,703.8 185,712 188.5,721.2 191.9,729.3 195.4,735.6 198.8,741 202.2,745.1 205.7,747.8 209.1,750.5 212.6,752.9 216,755.1 219.5,758.6 222.9,760.6 226.4,760.1 229.8,758.9 233.3,756.6 236.7,751.2 240.2,745.8 243.6,740.4 247.1,736 250.5,732 254,728.3 257.4,724.2 260.9,722.9 264.3,717.9 267.8,714.3 271.2,709.5 274.6,705.8 278.1,702.4 281.5,699.5 285,698 288.4,695 291.9,692.8 295.3,690.3 298.8,687.8 302.2,686 305.7,687 309.1,685.2 312.6,684.4 316,684.3 319.5,685.2 322.9,683.8 326.4,685 329.8,684.5 333.3,684.3 336.7,687.7 340.1,690.9 343.6,694.3 347,698.2 350.5,703 353.9,708 357.4,712.2 360.8,715.2 364.3,715.8 367.7,716.6 371.2,717.4 374.6,715.8 378.1,713.8 381.5,712.6 385,709.6 388.4,707.7 391.9,706.5 395.3,704.6 398.8,704.5 402.2,703.5 405.7,702.5 409.1,702.1 412.5,701.7 416,700.9 419.4,701.3 422.9,702.7 426.3,704.6 429.8,705.9 433.2,705.8 436.7,705.1 440.1,704.6 443.6,705.5 447,702.9 450.5,699.5 453.9,696.4 457.4,693.6 460.8,690.2 464.3,686.8 467.7,683.3 471.2,679.9 474.6,676.2 478,673 481.5,674.2 484.9,675.6 488.4,676.4 491.8,676.9 495.3,683.1 498.7,690.8 502.2,702.4 505.6,716.1 509.1,728.4 512.5,741.5 516,752.5 519.4,761.2 522.9,771.5 526.3,780.3 529.8,785.8 533.2,791.7 536.7,796.6 540.1,799.7 543.6,796.4 547,791.6 550.4,783.3 553.9,774.2 557.3,766.7 560.8,758 564.2,751.2 567.7,745 571.1,738.1 574.6,732.7 578,727.8 581.5,722.3 584.9,718.1 588.4,715.5 591.8,715.8 595.3,715.6 598.7,716.8 602.2,718.5 605.6,719.4 609.1,720.7 612.5,721.5 615.9,724.9 619.4,726.1 622.8,726.2 626.3,725.5 629.7,723.7 633.2,721.5 636.6,718.6 640.1,713.9 643.5,709.3 647,703.9 650.4,696.2 653.9,692.2 657.3,689.6 660.8,689.1 664.2,684.4 667.7,682.5 671.1,681.9 674.6,684.6 678,687 681.5,690.3 684.9,693.4 688.3,697.6 691.8,701.5 695.2,705 698.7,708.6 702.1,710.3 705.6,711.5 709,710.9 712.5,711.6 715.9,711.8 719.4,710.7 722.8,705.5 726.3,702.1 729.7,699 733.2,697 736.6,694.4 740.1,693.2 743.5,692.6 747,693.4 750.4,695.6 753.8,696.8 757.3,699.6 760.7,703.9 764.2,707 767.6,712.6 771.1,720.3 774.5,728.5 778,735.2 781.4,741.5 784.9,747.8 788.3,751.9 791.8,759 795.2,766.2 798.7,771 802.1,775.4 805.6,779.9 809,783.2 812.5,786.2 815.9,786.4 819.4,785.8 822.8,785.1 826.2,785.3 829.7,786.2 833.1,784.8 836.6,783.5 840,778.2 843.5,772.1 846.9,766.2 850.4,761.4 853.8,755.6 857.3,749 860.7,745.4 864.2,741.6 867.6,736.2 871.1,729.3 874.5,724 878,719.1 881.4,718.5 884.9,720 888.3,723.6 891.7,726.5 895.2,729.3 898.6,730.3 902.1,731.7 905.5,735.7 909,739.7 912.4,745.6 915.9,752.8 919.3,760.1 922.8,766.6 926.2,771 929.7,771.4 933.1,769.4 936.6,764.7 940,761.2 943.5,758.2 946.9,757.2 950.4,755.3 953.8,752.7 957.3,747.8 960.7,743.2 964.1,736.8 967.6,732.6 971,725.4 974.5,721.1 977.9,717.8 981.4,717.5 984.8,720 988.3,722 991.7,723.5 995.2,725.5 998.6,729.2 1002.1,729.7 1005.5,731 1009,731.9 1012.4,734.2 1015.9,734.5 1019.3,736.9 1022.8,738.6 1026.2,741.4 1029.6,742.1 1033.1,742.9 1036.5,744.4 1040,746.9 1043.4,748.6 1046.9,750.2 1050.3,752.2 1053.8,754.6 1057.2,754.5 1060.7,755.7 1064.1,757.1 1067.6,758.4 1071,757 1074.5,754.6 1077.9,752.5 1081.4,748.7 1084.8,742.9 1088.3,736.5 1091.7,729.5 1095.2,722 1098.6,715.7" fill="none" stroke="#f7a840" stroke-width="1.25" stroke-linejoin="round"/>
<polyline points="5.7,746.7 9.2,751.9 12.6,756.8 16.1,737.7 19.5,743.5 23,714.6 26.4,722.5 29.9,715.4 33.3,703.6 36.8,699.9 40.2,689.2 43.7,673 47.1,667.8 50.6,660.9 54,647 57.5,652.2 60.9,668 64.3,657.8 67.8,652.7 71.2,661.7 74.7,667.9 78.1,696.9 81.6,718 85,706.9 88.5,700.8 91.9,723.3 95.4,718.8 98.8,720.3 102.3,696.8 105.7,687.2 109.2,669.2 112.6,667.5 116.1,656.5 119.5,636.8 123,656.3 126.4,691.8 129.9,672.5 133.3,660.3 136.7,675.6 140.2,672.7 143.6,687.7 147.1,692.8 150.5,686.8 154,692.7 157.4,698.1 160.9,689.6 164.3,683.6 167.8,719.9 171.2,704.5 174.7,724.6 178.1,756.7 181.6,767.4 185,790.8 188.5,800.8 191.9,801.3 195.4,781.6 198.8,762.7 202.2,750.3 205.7,735.9 209.1,727 212.6,716.6 216,751.2 219.5,754.1 222.9,752.3 226.4,749 229.8,750.9 233.3,758.5 236.7,725.4 240.2,726.3 243.6,705.4 247.1,701.6 250.5,693.3 254,684.3 257.4,669.9 260.9,697.8 264.3,682.2 267.8,702.7 271.2,685.6 274.6,697.5 278.1,703.2 281.5,717.8 285,704.4 288.4,683.8 291.9,675.7 295.3,665.6 298.8,659.5 302.2,658.8 305.7,683.1 309.1,673 312.6,671.4 316,701.4 319.5,697.2 322.9,678.2 326.4,719.8 329.8,710.9 333.3,702.3 336.7,730.6 340.1,721.3 343.6,712.6 347,714.2 350.5,726.6 353.9,753 357.4,731.1 360.8,713.5 364.3,709.6 367.7,708.5 371.2,689.6 374.6,697.4 378.1,683.6 381.5,685 385,688.9 388.4,694.4 391.9,695.7 395.3,688.1 398.8,724.3 402.2,739.6 405.7,717.5 409.1,707.3 412.5,704.2 416,696.8 419.4,695.3 422.9,717.5 426.3,709.3 429.8,703.6 433.2,688.2 436.7,683.7 440.1,689.5 443.6,700.5 447,687.1 450.5,692 453.9,675.2 457.4,667.8 460.8,655.9 464.3,650 467.7,645.3 471.2,670.9 474.6,657.4 478,658.5 481.5,704.4 484.9,704.3 488.4,700.4 491.8,707.3 495.3,773.8 498.7,799.8 502.2,838.2 505.6,859.1 509.1,827.9 512.5,833.6 516,798.9 519.4,793.8 522.9,801.3 526.3,780.8 529.8,781.4 533.2,788 536.7,769.2 540.1,750.1 543.6,727.3 547,733.3 550.4,721.9 553.9,731.4 557.3,722.2 560.8,712.4 564.2,704.2 567.7,706.4 571.1,704.7 574.6,705.4 578,712.5 581.5,711.8 584.9,709.3 588.4,714.6 591.8,730.8 595.3,731.3 598.7,738.7 602.2,754.9 605.6,734.9 609.1,730.4 612.5,715 615.9,753.9 619.4,721.7 622.8,707.2 626.3,702.5 629.7,687.2 633.2,677.7 636.6,673.7 640.1,665.6 643.5,666.7 647,663.3 650.4,647.5 653.9,677.8 657.3,694.7 660.8,707.1 664.2,689.5 667.7,693.9 671.1,699.6 674.6,740.3 678,720.2 681.5,724.8 684.9,716.9 688.3,723.9 691.8,721.9 695.2,711.7 698.7,698.3 702.1,701.8 705.6,711.5 709,698.4 712.5,699.4 715.9,696.3 719.4,684 722.8,667.8 726.3,672.9 729.7,680.8 733.2,689.5 736.6,687.9 740.1,705 743.5,702.2 747,709.5 750.4,733.6 753.8,727.1 757.3,738.6 760.7,758.7 764.2,740.3 767.6,762.2 771.1,775.6 774.5,788.4 778,774.7 781.4,776.6 784.9,776.9 788.3,762.3 791.8,801 795.2,810.6 798.7,800.4 802.1,789 805.6,801.8 809,804.8 812.5,782.9 815.9,764.3 819.4,767.1 822.8,778.3 826.2,778.7 829.7,788.8 833.1,757.4 836.6,744.3 840,726.8 843.5,724.9 846.9,717.2 850.4,722.2 853.8,720.6 857.3,712 860.7,733.7 864.2,711 867.6,691.6 871.1,680.6 874.5,705.3 878,719.9 881.4,749.6 884.9,765.1 888.3,777 891.7,765.6 895.2,755.9 898.6,736.1 902.1,740.7 905.5,768.2 909,789.8 912.4,793.7 915.9,791.8 919.3,782.6 922.8,796.9 926.2,780.8 929.7,755.2 933.1,737.8 936.6,710.4 940,717 943.5,713.6 946.9,721.7 950.4,715 953.8,732.2 957.3,720.2 960.7,729.8 964.1,701.5 967.6,724.8 971,695.7 974.5,721 977.9,708.6 981.4,733.3 984.8,745.8 988.3,745.4 991.7,733.4 995.2,750.6 998.6,766.7 1002.1,739.1 1005.5,739 1009,742 1012.4,733.9 1015.9,729.2 1019.3,728 1022.8,745.8 1026.2,747.8 1029.6,742.1 1033.1,758.1 1036.5,766.5 1040,767.6 1043.4,775 1046.9,788.2 1050.3,767.9 1053.8,772.7 1057.2,740.5 1060.7,750 1064.1,749.6 1067.6,745.2 1071,726.2 1074.5,714.4 1077.9,713.6 1081.4,705 1084.8,684.6 1088.3,677.7 1091.7,676.8 1095.2,684.4 1098.6,679.8" fill="none" stroke="#8763cc" stroke-width="1.2" stroke-linejoin="round"/>
</g>
<line x1="1287" y1="29.6" x2="1287" y2="879" stroke="#8f8f8f" stroke-width="1.5"/>
<line x1="11" y1="849.4" x2="1368.3" y2="849.4" stroke="#707070" stroke-width="1.1"/>
<g clip-path="url(#ca)">
<text x="1295.2" y="62" font-size="12.4" fill="#555" textLength="61.5" lengthAdjust="spacing">132000.00</text>
<text x="1295.2" y="106.3" font-size="12.4" fill="#555" textLength="61.5" lengthAdjust="spacing">128000.00</text>
<text x="1295.2" y="150.6" font-size="12.4" fill="#555" textLength="61.5" lengthAdjust="spacing">124000.00</text>
<text x="1295.2" y="194.8" font-size="12.4" fill="#555" textLength="61.5" lengthAdjust="spacing">120000.00</text>
<text x="1295.2" y="239.1" font-size="12.4" fill="#555" textLength="61.5" lengthAdjust="spacing">116000.00</text>
<text x="1295.2" y="283.4" font-size="12.4" fill="#555" textLength="61.5" lengthAdjust="spacing">112000.00</text>
<text x="1295.2" y="327.7" font-size="12.4" fill="#555" textLength="61.5" lengthAdjust="spacing">108000.00</text>
<text x="1295.2" y="371.9" font-size="12.4" fill="#555" textLength="61.5" lengthAdjust="spacing">104000.00</text>
<text x="1295.2" y="416.2" font-size="12.4" fill="#555" textLength="61.5" lengthAdjust="spacing">100000.00</text>
<text x="1295.2" y="460.5" font-size="12.4" fill="#555" textLength="54.2" lengthAdjust="spacing">96000.00</text>
<text x="1295.2" y="504.7" font-size="12.4" fill="#555" textLength="54.2" lengthAdjust="spacing">92000.00</text>
<text x="1295.2" y="549" font-size="12.4" fill="#555" textLength="54.2" lengthAdjust="spacing">88000.00</text>
<text x="1295.2" y="593.3" font-size="12.4" fill="#555" textLength="54.2" lengthAdjust="spacing">84000.00</text>
<text x="1295.2" y="634.8" font-size="12.4" fill="#555" textLength="32.2" lengthAdjust="spacing">80.00</text>
<text x="1295.2" y="670.7" font-size="12.4" fill="#555" textLength="32.2" lengthAdjust="spacing">70.00</text>
<text x="1295.2" y="706.6" font-size="12.4" fill="#555" textLength="32.2" lengthAdjust="spacing">60.00</text>
<text x="1295.2" y="742.6" font-size="12.4" fill="#555" textLength="32.2" lengthAdjust="spacing">50.00</text>
<text x="1295.2" y="778.5" font-size="12.4" fill="#555" textLength="32.2" lengthAdjust="spacing">40.00</text>
<text x="1295.2" y="814.4" font-size="12.4" fill="#555" textLength="32.2" lengthAdjust="spacing">30.00</text>
<text x="1295.2" y="850.3" font-size="12.4" fill="#555" textLength="32.2" lengthAdjust="spacing">20.00</text>
</g>
<rect x="1290.4" y="33.3" width="73.4" height="26.1" rx="3.5" fill="#fff" stroke="#e3e6f3" stroke-width="1"/>
<text x="1294.2" y="49.8" font-size="12.4" fill="#4a4a4a" textLength="21.6" lengthAdjust="spacingAndGlyphs">BRL</text>
<path d="M1249.1 191.9H1285.2V209.4H1249.1a2 2 0 0 1-2-2V193.9a2 2 0 0 1 2-2Z" fill="#6aa584"/>
<path d="M1287 191.9H1362a2 2 0 0 1 2 2V221.2a2 2 0 0 1-2 2H1287Z" fill="#6aa584"/>
<text x="1252.7" y="204.6" font-size="12.4" fill="#eef6f1" textLength="27" lengthAdjust="spacingAndGlyphs">IBOV</text>
<text x="1295.9" y="204.6" font-size="12.4" fill="#eef6f1" textLength="61.6" lengthAdjust="spacing">119076.37</text>
<text x="1295.4" y="218.6" font-size="12.4" fill="#eef6f1" textLength="38.9" lengthAdjust="spacing">2d 14h</text>
<g clip-path="url(#ct)">
<text x="93.6" y="869.3" font-size="12" fill="#484848" font-weight="bold" textLength="30.7" lengthAdjust="spacing">2018</text>
<text x="276.3" y="869.3" font-size="12" fill="#484848" font-weight="bold" textLength="30.7" lengthAdjust="spacing">2019</text>
<text x="455.6" y="869.3" font-size="12" fill="#484848" font-weight="bold" textLength="30.7" lengthAdjust="spacing">2020</text>
<text x="634.8" y="869.3" font-size="12" fill="#484848" font-weight="bold" textLength="30.7" lengthAdjust="spacing">2021</text>
<text x="814.1" y="869.3" font-size="12" fill="#484848" font-weight="bold" textLength="30.7" lengthAdjust="spacing">2022</text>
<text x="993.4" y="869.3" font-size="12" fill="#484848" font-weight="bold" textLength="30.7" lengthAdjust="spacing">2023</text>
<text x="1172.6" y="869.3" font-size="12" fill="#484848" font-weight="bold" textLength="30.7" lengthAdjust="spacing">2024</text>
<text x="187.9" y="869.3" font-size="12" fill="#666" textLength="21.3" lengthAdjust="spacing">Juill</text>
<text x="367.2" y="869.3" font-size="12" fill="#666" textLength="21.3" lengthAdjust="spacing">Juill</text>
<text x="549.9" y="869.3" font-size="12" fill="#666" textLength="21.3" lengthAdjust="spacing">Juill</text>
<text x="729.2" y="869.3" font-size="12" fill="#666" textLength="21.3" lengthAdjust="spacing">Juill</text>
<text x="908.4" y="869.3" font-size="12" fill="#666" textLength="21.3" lengthAdjust="spacing">Juill</text>
<text x="1087.7" y="869.3" font-size="12" fill="#666" textLength="21.3" lengthAdjust="spacing">Juill</text>
<text x="1267" y="869.3" font-size="12" fill="#666" textLength="21.3" lengthAdjust="spacing">Juill</text>
</g>
<text x="11.2" y="23.8" font-size="12.9" fill="#262626" textLength="465.8" lengthAdjust="spacing">Carolane_de_Palmas a publié sur TradingView.com, Juill 05, 2023 10:58 UTC</text>
<text x="20" y="53" font-size="12.9" fill="#555" textLength="131.2" lengthAdjust="spacing">IBOVESPA, 1W, INDEX</text>
<text x="160.8" y="53" font-size="12.9" fill="#555" textLength="71.2" lengthAdjust="spacing">O<tspan fill="#4f8c69">118092.02</tspan></text>
<text x="241.2" y="53" font-size="12.9" fill="#555" textLength="70" lengthAdjust="spacing">H<tspan fill="#4f8c69">119877.04</tspan></text>
<text x="320" y="53" font-size="12.9" fill="#555" textLength="70.5" lengthAdjust="spacing">B<tspan fill="#4f8c69">118092.02</tspan></text>
<text x="399.5" y="53" font-size="12.9" fill="#555" textLength="69.8" lengthAdjust="spacing">C<tspan fill="#4f8c69">119076.37</tspan></text>
<text x="478" y="53" font-size="12.9" fill="#4f8c69" textLength="110.8" lengthAdjust="spacing">+989.37 (+0.84%)</text>
<text x="36.5" y="901.9" font-size="13.8" fill="#1e212b" textLength="78.7" lengthAdjust="spacing">TradingView</text>
</svg>
<svg style="position:absolute;left:10.7px;top:892.2px" width="20.8" height="10.4" viewBox="0 4 35.5 18" preserveAspectRatio="none"><path fill="#171a24" d="M14 22H7V11H0V4h14v18ZM28 22h-8l7.5-18h8L28 22Z"/><circle cx="20" cy="8" r="4" fill="#171a24"/></svg>
</body></html>
